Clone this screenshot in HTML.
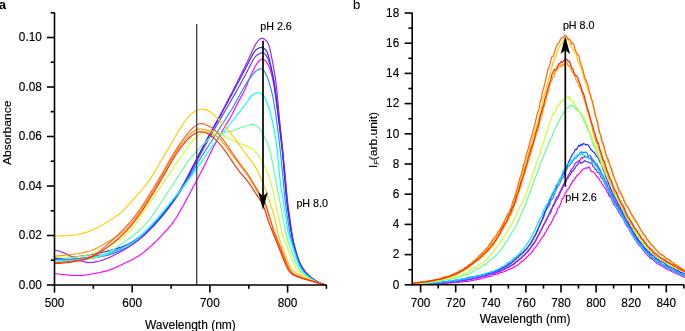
<!DOCTYPE html>
<html lang="en"><head><meta charset="utf-8"><title>Absorbance and fluorescence spectra</title>
<style>html,body{margin:0;padding:0;background:#fff;}body{width:685px;height:331px;overflow:hidden;}svg{display:block;}text{font-family:'Liberation Sans', sans-serif;fill:#000;}</style></head><body>
<svg width="685" height="331" viewBox="0 0 685 331">
<rect width="685" height="331" fill="#fff"/>
<g fill="none" stroke-width="1.15" stroke-linejoin="round" stroke-linecap="round">
<path stroke="#ff00ff" d="M54.5 273.5 L55.5 273.7 L56.5 273.8 L57.5 273.9 L58.5 274.0 L59.5 274.2 L60.5 274.3 L61.5 274.4 L62.5 274.5 L63.5 274.6 L64.5 274.7 L65.5 274.8 L66.5 274.9 L67.5 275.0 L68.5 275.1 L69.5 275.2 L70.5 275.3 L71.5 275.4 L72.5 275.4 L73.5 275.5 L74.5 275.5 L75.5 275.5 L76.5 275.5 L77.5 275.5 L78.5 275.5 L79.5 275.5 L80.5 275.4 L81.5 275.3 L82.5 275.3 L83.5 275.2 L84.5 275.1 L85.5 274.9 L86.5 274.8 L87.5 274.7 L88.5 274.5 L89.5 274.4 L90.5 274.2 L91.5 274.0 L92.5 273.8 L93.5 273.7 L94.5 273.5 L95.5 273.3 L96.5 273.1 L97.5 272.9 L98.5 272.7 L99.5 272.5 L100.5 272.3 L101.5 272.1 L102.5 271.9 L103.5 271.6 L104.5 271.4 L105.5 271.1 L106.5 270.9 L107.5 270.6 L108.5 270.3 L109.5 269.9 L110.5 269.6 L111.5 269.2 L112.5 268.8 L113.5 268.4 L114.5 267.9 L115.5 267.5 L116.5 267.0 L117.5 266.6 L118.5 266.1 L119.5 265.7 L120.5 265.2 L121.5 264.7 L122.5 264.2 L123.5 263.8 L124.5 263.3 L125.5 262.8 L126.5 262.3 L127.5 261.9 L128.5 261.4 L129.5 260.9 L130.5 260.4 L131.5 259.9 L132.5 259.4 L133.5 258.9 L134.5 258.3 L135.5 257.8 L136.5 257.2 L137.5 256.6 L138.5 256.0 L139.5 255.3 L140.5 254.6 L141.5 253.9 L142.5 253.2 L143.5 252.4 L144.5 251.6 L145.5 250.8 L146.5 250.0 L147.5 249.1 L148.5 248.3 L149.5 247.4 L150.5 246.5 L151.5 245.6 L152.5 244.7 L153.5 243.7 L154.5 242.8 L155.5 241.8 L156.5 240.8 L157.5 239.8 L158.5 238.8 L159.5 237.8 L160.5 236.8 L161.5 235.7 L162.5 234.7 L163.5 233.6 L164.5 232.5 L165.5 231.4 L166.5 230.3 L167.5 229.2 L168.5 228.0 L169.5 226.9 L170.5 225.6 L171.5 224.4 L172.5 223.1 L173.5 221.7 L174.5 220.3 L175.5 218.8 L176.5 217.2 L177.5 215.6 L178.5 213.9 L179.5 212.2 L180.5 210.4 L181.5 208.6 L182.5 206.8 L183.5 205.0 L184.5 203.2 L185.5 201.4 L186.5 199.5 L187.5 197.6 L188.5 195.8 L189.5 193.9 L190.5 192.0 L191.5 190.2 L192.5 188.3 L193.5 186.4 L194.5 184.5 L195.5 182.6 L196.5 180.7 L197.5 178.9 L198.5 177.0 L199.5 175.1 L200.5 173.2 L201.5 171.2 L202.5 169.3 L203.5 167.4 L204.5 165.4 L205.5 163.4 L206.5 161.3 L207.5 159.2 L208.5 157.1 L209.5 155.1 L210.5 153.0 L211.5 151.0 L212.5 149.0 L213.5 147.1 L214.5 145.2 L215.5 143.3 L216.5 141.5 L217.5 139.6 L218.5 137.8 L219.5 136.0 L220.5 134.2 L221.5 132.4 L222.5 130.7 L223.5 129.0 L224.5 127.3 L225.5 125.6 L226.5 124.0 L227.5 122.4 L228.5 120.8 L229.5 119.1 L230.5 117.3 L231.5 115.5 L232.5 113.6 L233.5 111.6 L234.5 109.6 L235.5 107.5 L236.5 105.5 L237.5 103.5 L238.5 101.6 L239.5 99.7 L240.5 97.9 L241.5 96.1 L242.5 94.4 L243.5 92.5 L244.5 90.5 L245.5 88.2 L246.5 85.8 L247.5 83.2 L248.5 80.7 L249.5 78.4 L250.5 76.1 L251.5 74.0 L252.5 71.8 L253.5 69.8 L254.5 67.8 L255.5 66.0 L256.5 64.3 L257.5 62.8 L258.5 61.5 L259.5 60.5 L260.5 59.8 L261.5 59.5 L262.5 59.4 L263.5 59.5 L264.5 60.0 L265.5 60.8 L266.5 62.0 L267.5 63.5 L268.5 65.4 L269.5 67.8 L270.5 70.7 L271.5 74.2 L272.5 78.3 L273.5 83.2 L274.5 89.1 L275.5 96.0 L276.5 103.4 L277.5 111.1 L278.5 119.1 L279.5 127.3 L280.5 135.6 L281.5 143.9 L282.5 152.3 L283.5 160.8 L284.5 169.9 L285.5 180.3 L286.5 192.4 L287.5 204.0 L288.5 212.9 L289.5 219.9 L290.5 226.5 L291.5 232.7 L292.5 238.1 L293.5 242.8 L294.5 247.0 L295.5 250.8 L296.5 254.3 L297.5 257.5 L298.5 260.4 L299.5 262.8 L300.5 265.0 L301.5 266.8 L302.5 268.5 L303.5 270.0 L304.5 271.5 L305.5 272.8 L306.5 273.9 L307.5 274.9 L308.5 275.8 L309.5 276.6 L310.5 277.4 L311.5 278.1 L312.5 278.8 L313.5 279.5 L314.5 280.2 L315.5 280.8 L316.5 281.3 L317.5 281.8 L318.5 282.3 L319.5 282.8 L320.5 283.2 L321.5 283.6 L322.5 284.0 L323.5 284.4 L324.5 284.7 L325.5 285.0 L326.2 285.2"/>
<path stroke="#a31cf5" d="M54.5 249.9 L55.5 250.2 L56.5 250.5 L57.5 250.7 L58.5 251.0 L59.5 251.3 L60.5 251.7 L61.5 252.0 L62.5 252.4 L63.5 252.8 L64.5 253.2 L65.5 253.6 L66.5 254.1 L67.5 254.5 L68.5 255.0 L69.5 255.5 L70.5 256.0 L71.5 256.5 L72.5 257.0 L73.5 257.5 L74.5 258.0 L75.5 258.5 L76.5 259.0 L77.5 259.4 L78.5 259.8 L79.5 260.2 L80.5 260.6 L81.5 261.0 L82.5 261.3 L83.5 261.6 L84.5 261.9 L85.5 262.1 L86.5 262.3 L87.5 262.4 L88.5 262.5 L89.5 262.5 L90.5 262.5 L91.5 262.5 L92.5 262.4 L93.5 262.3 L94.5 262.1 L95.5 261.9 L96.5 261.7 L97.5 261.5 L98.5 261.3 L99.5 261.0 L100.5 260.7 L101.5 260.4 L102.5 260.1 L103.5 259.8 L104.5 259.4 L105.5 259.0 L106.5 258.6 L107.5 258.2 L108.5 257.8 L109.5 257.4 L110.5 256.9 L111.5 256.5 L112.5 256.0 L113.5 255.5 L114.5 255.0 L115.5 254.5 L116.5 254.0 L117.5 253.5 L118.5 253.0 L119.5 252.4 L120.5 251.9 L121.5 251.3 L122.5 250.7 L123.5 250.2 L124.5 249.6 L125.5 248.9 L126.5 248.3 L127.5 247.7 L128.5 247.0 L129.5 246.4 L130.5 245.7 L131.5 245.0 L132.5 244.3 L133.5 243.5 L134.5 242.8 L135.5 242.0 L136.5 241.3 L137.5 240.5 L138.5 239.7 L139.5 238.8 L140.5 238.0 L141.5 237.1 L142.5 236.3 L143.5 235.4 L144.5 234.5 L145.5 233.5 L146.5 232.6 L147.5 231.6 L148.5 230.6 L149.5 229.6 L150.5 228.6 L151.5 227.6 L152.5 226.5 L153.5 225.5 L154.5 224.4 L155.5 223.3 L156.5 222.2 L157.5 221.1 L158.5 220.0 L159.5 218.8 L160.5 217.7 L161.5 216.5 L162.5 215.3 L163.5 214.1 L164.5 212.9 L165.5 211.7 L166.5 210.4 L167.5 209.1 L168.5 207.8 L169.5 206.4 L170.5 205.0 L171.5 203.6 L172.5 202.1 L173.5 200.7 L174.5 199.1 L175.5 197.6 L176.5 196.0 L177.5 194.4 L178.5 192.8 L179.5 191.1 L180.5 189.4 L181.5 187.7 L182.5 185.9 L183.5 184.1 L184.5 182.3 L185.5 180.4 L186.5 178.5 L187.5 176.6 L188.5 174.7 L189.5 172.7 L190.5 170.8 L191.5 168.8 L192.5 166.8 L193.5 164.9 L194.5 162.9 L195.5 161.0 L196.5 159.0 L197.5 157.1 L198.5 155.2 L199.5 153.2 L200.5 151.3 L201.5 149.4 L202.5 147.5 L203.5 145.5 L204.5 143.6 L205.5 141.7 L206.5 139.8 L207.5 138.0 L208.5 136.1 L209.5 134.3 L210.5 132.4 L211.5 130.6 L212.5 128.9 L213.5 127.1 L214.5 125.3 L215.5 123.5 L216.5 121.7 L217.5 119.9 L218.5 118.1 L219.5 116.3 L220.5 114.4 L221.5 112.6 L222.5 110.7 L223.5 108.8 L224.5 106.9 L225.5 105.0 L226.5 103.1 L227.5 101.1 L228.5 99.2 L229.5 97.3 L230.5 95.3 L231.5 93.4 L232.5 91.5 L233.5 89.5 L234.5 87.5 L235.5 85.6 L236.5 83.6 L237.5 81.6 L238.5 79.6 L239.5 77.6 L240.5 75.6 L241.5 73.6 L242.5 71.6 L243.5 69.6 L244.5 67.5 L245.5 65.5 L246.5 63.4 L247.5 61.3 L248.5 59.2 L249.5 57.0 L250.5 54.8 L251.5 52.7 L252.5 50.5 L253.5 48.4 L254.5 46.4 L255.5 44.6 L256.5 43.0 L257.5 41.6 L258.5 40.4 L259.5 39.4 L260.5 38.7 L261.5 38.3 L262.5 38.3 L263.5 38.6 L264.5 39.3 L265.5 40.1 L266.5 41.0 L267.5 42.3 L268.5 44.3 L269.5 47.4 L270.5 51.6 L271.5 56.6 L272.5 61.9 L273.5 67.3 L274.5 72.9 L275.5 79.2 L276.5 87.1 L277.5 97.2 L278.5 108.5 L279.5 119.3 L280.5 129.1 L281.5 138.6 L282.5 148.4 L283.5 158.8 L284.5 169.8 L285.5 180.9 L286.5 191.5 L287.5 200.9 L288.5 208.6 L289.5 215.6 L290.5 223.2 L291.5 230.7 L292.5 237.1 L293.5 242.0 L294.5 246.0 L295.5 249.5 L296.5 252.9 L297.5 256.1 L298.5 259.1 L299.5 261.7 L300.5 264.0 L301.5 265.9 L302.5 267.5 L303.5 269.1 L304.5 270.5 L305.5 271.9 L306.5 273.1 L307.5 274.2 L308.5 275.2 L309.5 276.1 L310.5 276.9 L311.5 277.7 L312.5 278.5 L313.5 279.2 L314.5 279.9 L315.5 280.6 L316.5 281.2 L317.5 281.7 L318.5 282.2 L319.5 282.7 L320.5 283.2 L321.5 283.6 L322.5 284.0 L323.5 284.4 L324.5 284.7 L325.5 285.0 L326.2 285.2"/>
<path stroke="#6a38ff" d="M54.5 259.0 L55.5 259.1 L56.5 259.1 L57.5 259.2 L58.5 259.3 L59.5 259.3 L60.5 259.3 L61.5 259.4 L62.5 259.4 L63.5 259.4 L64.5 259.5 L65.5 259.5 L66.5 259.5 L67.5 259.5 L68.5 259.5 L69.5 259.5 L70.5 259.5 L71.5 259.5 L72.5 259.4 L73.5 259.4 L74.5 259.4 L75.5 259.4 L76.5 259.3 L77.5 259.3 L78.5 259.3 L79.5 259.2 L80.5 259.1 L81.5 259.1 L82.5 259.0 L83.5 258.9 L84.5 258.9 L85.5 258.8 L86.5 258.7 L87.5 258.6 L88.5 258.5 L89.5 258.4 L90.5 258.2 L91.5 258.1 L92.5 258.0 L93.5 257.8 L94.5 257.7 L95.5 257.5 L96.5 257.4 L97.5 257.2 L98.5 257.0 L99.5 256.9 L100.5 256.7 L101.5 256.5 L102.5 256.3 L103.5 256.1 L104.5 255.9 L105.5 255.6 L106.5 255.4 L107.5 255.1 L108.5 254.9 L109.5 254.6 L110.5 254.3 L111.5 254.0 L112.5 253.6 L113.5 253.3 L114.5 252.9 L115.5 252.6 L116.5 252.2 L117.5 251.8 L118.5 251.4 L119.5 251.0 L120.5 250.5 L121.5 250.1 L122.5 249.7 L123.5 249.2 L124.5 248.7 L125.5 248.3 L126.5 247.8 L127.5 247.2 L128.5 246.7 L129.5 246.1 L130.5 245.5 L131.5 244.9 L132.5 244.3 L133.5 243.7 L134.5 243.0 L135.5 242.3 L136.5 241.6 L137.5 240.8 L138.5 240.1 L139.5 239.3 L140.5 238.5 L141.5 237.7 L142.5 236.8 L143.5 235.9 L144.5 235.0 L145.5 234.1 L146.5 233.2 L147.5 232.2 L148.5 231.2 L149.5 230.2 L150.5 229.2 L151.5 228.2 L152.5 227.1 L153.5 226.1 L154.5 225.0 L155.5 223.9 L156.5 222.8 L157.5 221.7 L158.5 220.5 L159.5 219.4 L160.5 218.2 L161.5 217.0 L162.5 215.8 L163.5 214.6 L164.5 213.4 L165.5 212.2 L166.5 210.9 L167.5 209.6 L168.5 208.3 L169.5 207.0 L170.5 205.7 L171.5 204.3 L172.5 203.0 L173.5 201.6 L174.5 200.1 L175.5 198.7 L176.5 197.2 L177.5 195.7 L178.5 194.2 L179.5 192.7 L180.5 191.1 L181.5 189.5 L182.5 187.9 L183.5 186.2 L184.5 184.5 L185.5 182.7 L186.5 180.9 L187.5 179.1 L188.5 177.2 L189.5 175.4 L190.5 173.4 L191.5 171.5 L192.5 169.6 L193.5 167.7 L194.5 165.7 L195.5 163.8 L196.5 161.9 L197.5 160.0 L198.5 158.1 L199.5 156.2 L200.5 154.2 L201.5 152.3 L202.5 150.4 L203.5 148.6 L204.5 146.7 L205.5 144.9 L206.5 143.1 L207.5 141.3 L208.5 139.6 L209.5 137.8 L210.5 136.1 L211.5 134.4 L212.5 132.6 L213.5 130.9 L214.5 129.2 L215.5 127.5 L216.5 125.8 L217.5 124.0 L218.5 122.3 L219.5 120.6 L220.5 118.9 L221.5 117.1 L222.5 115.4 L223.5 113.7 L224.5 111.9 L225.5 110.2 L226.5 108.5 L227.5 106.7 L228.5 105.0 L229.5 103.3 L230.5 101.6 L231.5 99.8 L232.5 98.1 L233.5 96.3 L234.5 94.6 L235.5 92.9 L236.5 91.1 L237.5 89.3 L238.5 87.5 L239.5 85.7 L240.5 83.9 L241.5 82.0 L242.5 80.2 L243.5 78.3 L244.5 76.4 L245.5 74.6 L246.5 72.7 L247.5 70.8 L248.5 68.8 L249.5 66.8 L250.5 64.9 L251.5 63.0 L252.5 61.1 L253.5 59.3 L254.5 57.8 L255.5 56.5 L256.5 55.6 L257.5 54.7 L258.5 54.1 L259.5 53.5 L260.5 53.1 L261.5 52.9 L262.5 52.9 L263.5 53.2 L264.5 53.8 L265.5 54.7 L266.5 56.1 L267.5 57.9 L268.5 60.2 L269.5 63.0 L270.5 66.2 L271.5 69.8 L272.5 73.8 L273.5 78.6 L274.5 84.3 L275.5 91.1 L276.5 98.7 L277.5 106.7 L278.5 115.1 L279.5 123.5 L280.5 132.1 L281.5 141.1 L282.5 150.9 L283.5 162.2 L284.5 174.7 L285.5 187.0 L286.5 197.6 L287.5 206.1 L288.5 213.3 L289.5 220.0 L290.5 226.5 L291.5 232.7 L292.5 238.2 L293.5 242.9 L294.5 247.0 L295.5 250.7 L296.5 254.1 L297.5 257.3 L298.5 260.1 L299.5 262.5 L300.5 264.6 L301.5 266.4 L302.5 268.0 L303.5 269.5 L304.5 271.0 L305.5 272.3 L306.5 273.5 L307.5 274.5 L308.5 275.5 L309.5 276.3 L310.5 277.1 L311.5 277.9 L312.5 278.7 L313.5 279.4 L314.5 280.1 L315.5 280.7 L316.5 281.3 L317.5 281.8 L318.5 282.3 L319.5 282.8 L320.5 283.2 L321.5 283.7 L322.5 284.1 L323.5 284.4 L324.5 284.7 L325.5 285.0 L326.2 285.2"/>
<path stroke="#2b2bff" d="M54.5 258.5 L55.5 258.4 L56.5 258.4 L57.5 258.3 L58.5 258.2 L59.5 258.1 L60.5 258.1 L61.5 258.0 L62.5 257.9 L63.5 257.8 L64.5 257.7 L65.5 257.6 L66.5 257.6 L67.5 257.5 L68.5 257.4 L69.5 257.3 L70.5 257.2 L71.5 257.1 L72.5 257.0 L73.5 256.9 L74.5 256.8 L75.5 256.7 L76.5 256.6 L77.5 256.5 L78.5 256.4 L79.5 256.2 L80.5 256.1 L81.5 256.0 L82.5 255.9 L83.5 255.8 L84.5 255.6 L85.5 255.5 L86.5 255.3 L87.5 255.2 L88.5 255.0 L89.5 254.9 L90.5 254.7 L91.5 254.6 L92.5 254.4 L93.5 254.2 L94.5 254.0 L95.5 253.8 L96.5 253.6 L97.5 253.4 L98.5 253.2 L99.5 253.0 L100.5 252.7 L101.5 252.5 L102.5 252.3 L103.5 252.0 L104.5 251.8 L105.5 251.6 L106.5 251.3 L107.5 251.1 L108.5 250.8 L109.5 250.6 L110.5 250.3 L111.5 250.0 L112.5 249.7 L113.5 249.5 L114.5 249.2 L115.5 248.9 L116.5 248.6 L117.5 248.3 L118.5 247.9 L119.5 247.6 L120.5 247.3 L121.5 247.0 L122.5 246.6 L123.5 246.2 L124.5 245.8 L125.5 245.4 L126.5 244.9 L127.5 244.5 L128.5 244.0 L129.5 243.4 L130.5 242.8 L131.5 242.3 L132.5 241.6 L133.5 241.0 L134.5 240.4 L135.5 239.7 L136.5 239.0 L137.5 238.3 L138.5 237.5 L139.5 236.8 L140.5 236.1 L141.5 235.3 L142.5 234.5 L143.5 233.7 L144.5 232.9 L145.5 232.0 L146.5 231.2 L147.5 230.3 L148.5 229.4 L149.5 228.5 L150.5 227.6 L151.5 226.6 L152.5 225.6 L153.5 224.7 L154.5 223.6 L155.5 222.6 L156.5 221.6 L157.5 220.5 L158.5 219.4 L159.5 218.3 L160.5 217.1 L161.5 216.0 L162.5 214.8 L163.5 213.6 L164.5 212.3 L165.5 211.1 L166.5 209.8 L167.5 208.5 L168.5 207.2 L169.5 205.8 L170.5 204.4 L171.5 203.0 L172.5 201.6 L173.5 200.1 L174.5 198.7 L175.5 197.2 L176.5 195.7 L177.5 194.2 L178.5 192.7 L179.5 191.1 L180.5 189.5 L181.5 187.9 L182.5 186.2 L183.5 184.5 L184.5 182.8 L185.5 181.0 L186.5 179.2 L187.5 177.3 L188.5 175.4 L189.5 173.5 L190.5 171.6 L191.5 169.6 L192.5 167.6 L193.5 165.7 L194.5 163.7 L195.5 161.8 L196.5 159.8 L197.5 157.9 L198.5 155.9 L199.5 154.0 L200.5 152.1 L201.5 150.1 L202.5 148.2 L203.5 146.3 L204.5 144.4 L205.5 142.5 L206.5 140.6 L207.5 138.7 L208.5 136.9 L209.5 135.0 L210.5 133.2 L211.5 131.5 L212.5 129.7 L213.5 127.9 L214.5 126.2 L215.5 124.4 L216.5 122.6 L217.5 120.9 L218.5 119.1 L219.5 117.2 L220.5 115.4 L221.5 113.6 L222.5 111.7 L223.5 109.8 L224.5 108.0 L225.5 106.1 L226.5 104.2 L227.5 102.4 L228.5 100.5 L229.5 98.6 L230.5 96.8 L231.5 94.9 L232.5 93.0 L233.5 91.1 L234.5 89.2 L235.5 87.3 L236.5 85.5 L237.5 83.6 L238.5 81.7 L239.5 79.8 L240.5 77.9 L241.5 76.0 L242.5 74.1 L243.5 72.2 L244.5 70.3 L245.5 68.4 L246.5 66.4 L247.5 64.5 L248.5 62.6 L249.5 60.7 L250.5 58.7 L251.5 56.8 L252.5 54.9 L253.5 53.1 L254.5 51.6 L255.5 50.4 L256.5 49.5 L257.5 48.8 L258.5 48.3 L259.5 47.8 L260.5 47.6 L261.5 47.5 L262.5 47.7 L263.5 48.1 L264.5 48.8 L265.5 49.7 L266.5 51.1 L267.5 53.2 L268.5 56.2 L269.5 60.0 L270.5 64.3 L271.5 69.0 L272.5 74.0 L273.5 79.6 L274.5 86.2 L275.5 93.5 L276.5 101.3 L277.5 109.4 L278.5 117.5 L279.5 125.6 L280.5 133.9 L281.5 142.4 L282.5 151.9 L283.5 163.1 L284.5 175.6 L285.5 187.9 L286.5 198.5 L287.5 206.9 L288.5 214.0 L289.5 220.8 L290.5 227.5 L291.5 233.8 L292.5 239.2 L293.5 243.8 L294.5 247.7 L295.5 251.3 L296.5 254.7 L297.5 257.8 L298.5 260.5 L299.5 262.9 L300.5 265.0 L301.5 266.7 L302.5 268.3 L303.5 269.8 L304.5 271.2 L305.5 272.5 L306.5 273.7 L307.5 274.7 L308.5 275.6 L309.5 276.5 L310.5 277.3 L311.5 278.1 L312.5 278.8 L313.5 279.5 L314.5 280.2 L315.5 280.8 L316.5 281.4 L317.5 281.9 L318.5 282.4 L319.5 282.9 L320.5 283.3 L321.5 283.7 L322.5 284.1 L323.5 284.5 L324.5 284.8 L325.5 285.0 L326.2 285.2"/>
<path stroke="#1e90ff" d="M54.5 259.5 L55.5 259.5 L56.5 259.5 L57.5 259.5 L58.5 259.5 L59.5 259.5 L60.5 259.4 L61.5 259.4 L62.5 259.4 L63.5 259.3 L64.5 259.3 L65.5 259.2 L66.5 259.2 L67.5 259.1 L68.5 259.1 L69.5 259.0 L70.5 259.0 L71.5 258.9 L72.5 258.8 L73.5 258.7 L74.5 258.7 L75.5 258.6 L76.5 258.5 L77.5 258.4 L78.5 258.3 L79.5 258.2 L80.5 258.1 L81.5 258.0 L82.5 257.9 L83.5 257.8 L84.5 257.7 L85.5 257.5 L86.5 257.4 L87.5 257.3 L88.5 257.1 L89.5 257.0 L90.5 256.8 L91.5 256.7 L92.5 256.5 L93.5 256.3 L94.5 256.1 L95.5 256.0 L96.5 255.8 L97.5 255.6 L98.5 255.4 L99.5 255.2 L100.5 255.0 L101.5 254.8 L102.5 254.5 L103.5 254.3 L104.5 254.1 L105.5 253.8 L106.5 253.6 L107.5 253.3 L108.5 253.0 L109.5 252.7 L110.5 252.4 L111.5 252.1 L112.5 251.7 L113.5 251.4 L114.5 251.0 L115.5 250.6 L116.5 250.2 L117.5 249.8 L118.5 249.4 L119.5 249.0 L120.5 248.6 L121.5 248.1 L122.5 247.7 L123.5 247.2 L124.5 246.8 L125.5 246.3 L126.5 245.8 L127.5 245.3 L128.5 244.7 L129.5 244.2 L130.5 243.6 L131.5 243.0 L132.5 242.4 L133.5 241.7 L134.5 241.1 L135.5 240.4 L136.5 239.6 L137.5 238.9 L138.5 238.1 L139.5 237.3 L140.5 236.5 L141.5 235.6 L142.5 234.7 L143.5 233.8 L144.5 232.9 L145.5 232.0 L146.5 231.0 L147.5 230.0 L148.5 229.0 L149.5 228.0 L150.5 227.0 L151.5 225.9 L152.5 224.9 L153.5 223.8 L154.5 222.7 L155.5 221.6 L156.5 220.4 L157.5 219.3 L158.5 218.1 L159.5 217.0 L160.5 215.8 L161.5 214.6 L162.5 213.3 L163.5 212.1 L164.5 210.9 L165.5 209.6 L166.5 208.4 L167.5 207.1 L168.5 205.9 L169.5 204.6 L170.5 203.3 L171.5 202.0 L172.5 200.7 L173.5 199.4 L174.5 198.1 L175.5 196.8 L176.5 195.5 L177.5 194.2 L178.5 192.9 L179.5 191.6 L180.5 190.2 L181.5 188.9 L182.5 187.5 L183.5 186.1 L184.5 184.7 L185.5 183.3 L186.5 181.8 L187.5 180.3 L188.5 178.8 L189.5 177.2 L190.5 175.6 L191.5 174.0 L192.5 172.3 L193.5 170.5 L194.5 168.8 L195.5 167.0 L196.5 165.2 L197.5 163.5 L198.5 161.7 L199.5 160.0 L200.5 158.4 L201.5 156.8 L202.5 155.2 L203.5 153.6 L204.5 152.1 L205.5 150.5 L206.5 148.9 L207.5 147.4 L208.5 145.8 L209.5 144.2 L210.5 142.7 L211.5 141.1 L212.5 139.5 L213.5 138.0 L214.5 136.4 L215.5 134.8 L216.5 133.3 L217.5 131.7 L218.5 130.1 L219.5 128.6 L220.5 127.0 L221.5 125.4 L222.5 123.8 L223.5 122.3 L224.5 120.7 L225.5 119.1 L226.5 117.6 L227.5 116.0 L228.5 114.4 L229.5 112.9 L230.5 111.3 L231.5 109.7 L232.5 108.0 L233.5 106.3 L234.5 104.6 L235.5 102.8 L236.5 101.0 L237.5 99.2 L238.5 97.3 L239.5 95.5 L240.5 93.6 L241.5 91.8 L242.5 90.0 L243.5 88.2 L244.5 86.5 L245.5 84.8 L246.5 83.2 L247.5 81.6 L248.5 80.2 L249.5 78.7 L250.5 77.4 L251.5 76.1 L252.5 74.8 L253.5 73.6 L254.5 72.5 L255.5 71.5 L256.5 70.6 L257.5 69.9 L258.5 69.4 L259.5 69.0 L260.5 68.9 L261.5 69.0 L262.5 69.4 L263.5 70.2 L264.5 71.5 L265.5 73.2 L266.5 75.4 L267.5 77.9 L268.5 80.7 L269.5 83.8 L270.5 87.2 L271.5 91.0 L272.5 95.3 L273.5 100.4 L274.5 106.3 L275.5 112.8 L276.5 119.9 L277.5 127.5 L278.5 135.4 L279.5 143.9 L280.5 153.0 L281.5 162.7 L282.5 172.9 L283.5 183.5 L284.5 194.1 L285.5 203.4 L286.5 211.1 L287.5 218.0 L288.5 224.6 L289.5 230.7 L290.5 236.0 L291.5 240.2 L292.5 243.7 L293.5 246.9 L294.5 250.1 L295.5 253.4 L296.5 256.5 L297.5 259.4 L298.5 262.0 L299.5 264.3 L300.5 266.3 L301.5 268.0 L302.5 269.6 L303.5 271.0 L304.5 272.3 L305.5 273.5 L306.5 274.5 L307.5 275.4 L308.5 276.2 L309.5 277.0 L310.5 277.8 L311.5 278.5 L312.5 279.2 L313.5 279.9 L314.5 280.5 L315.5 281.1 L316.5 281.6 L317.5 282.1 L318.5 282.5 L319.5 282.9 L320.5 283.4 L321.5 283.8 L322.5 284.1 L323.5 284.5 L324.5 284.8 L325.5 285.0 L326.2 285.2"/>
<path stroke="#00ffff" d="M54.5 261.0 L55.5 261.0 L56.5 260.9 L57.5 260.9 L58.5 260.8 L59.5 260.8 L60.5 260.7 L61.5 260.7 L62.5 260.6 L63.5 260.6 L64.5 260.5 L65.5 260.4 L66.5 260.4 L67.5 260.3 L68.5 260.3 L69.5 260.2 L70.5 260.1 L71.5 260.1 L72.5 260.0 L73.5 259.9 L74.5 259.9 L75.5 259.8 L76.5 259.7 L77.5 259.7 L78.5 259.6 L79.5 259.5 L80.5 259.4 L81.5 259.4 L82.5 259.3 L83.5 259.2 L84.5 259.1 L85.5 259.0 L86.5 258.9 L87.5 258.8 L88.5 258.7 L89.5 258.6 L90.5 258.5 L91.5 258.3 L92.5 258.2 L93.5 258.0 L94.5 257.8 L95.5 257.7 L96.5 257.5 L97.5 257.2 L98.5 257.0 L99.5 256.8 L100.5 256.5 L101.5 256.3 L102.5 256.0 L103.5 255.7 L104.5 255.4 L105.5 255.1 L106.5 254.8 L107.5 254.5 L108.5 254.1 L109.5 253.8 L110.5 253.4 L111.5 253.0 L112.5 252.7 L113.5 252.3 L114.5 251.8 L115.5 251.4 L116.5 251.0 L117.5 250.5 L118.5 250.1 L119.5 249.6 L120.5 249.2 L121.5 248.7 L122.5 248.2 L123.5 247.7 L124.5 247.2 L125.5 246.6 L126.5 246.1 L127.5 245.5 L128.5 244.9 L129.5 244.3 L130.5 243.7 L131.5 243.1 L132.5 242.4 L133.5 241.7 L134.5 240.9 L135.5 240.2 L136.5 239.4 L137.5 238.6 L138.5 237.7 L139.5 236.8 L140.5 235.9 L141.5 235.0 L142.5 234.1 L143.5 233.1 L144.5 232.2 L145.5 231.2 L146.5 230.2 L147.5 229.1 L148.5 228.1 L149.5 227.1 L150.5 226.0 L151.5 225.0 L152.5 223.9 L153.5 222.8 L154.5 221.7 L155.5 220.5 L156.5 219.4 L157.5 218.3 L158.5 217.1 L159.5 215.9 L160.5 214.8 L161.5 213.6 L162.5 212.4 L163.5 211.2 L164.5 210.0 L165.5 208.7 L166.5 207.5 L167.5 206.3 L168.5 205.1 L169.5 203.8 L170.5 202.6 L171.5 201.4 L172.5 200.1 L173.5 198.9 L174.5 197.6 L175.5 196.4 L176.5 195.1 L177.5 193.8 L178.5 192.6 L179.5 191.3 L180.5 190.0 L181.5 188.7 L182.5 187.4 L183.5 186.2 L184.5 184.9 L185.5 183.6 L186.5 182.3 L187.5 180.9 L188.5 179.6 L189.5 178.3 L190.5 177.0 L191.5 175.6 L192.5 174.3 L193.5 172.9 L194.5 171.5 L195.5 170.2 L196.5 168.8 L197.5 167.4 L198.5 166.0 L199.5 164.6 L200.5 163.2 L201.5 161.8 L202.5 160.4 L203.5 159.0 L204.5 157.5 L205.5 156.1 L206.5 154.7 L207.5 153.2 L208.5 151.7 L209.5 150.2 L210.5 148.7 L211.5 147.2 L212.5 145.8 L213.5 144.5 L214.5 143.1 L215.5 141.9 L216.5 140.6 L217.5 139.4 L218.5 138.3 L219.5 137.1 L220.5 135.9 L221.5 134.7 L222.5 133.4 L223.5 132.2 L224.5 130.9 L225.5 129.6 L226.5 128.3 L227.5 127.1 L228.5 125.8 L229.5 124.5 L230.5 123.3 L231.5 122.0 L232.5 120.7 L233.5 119.5 L234.5 118.2 L235.5 117.0 L236.5 115.7 L237.5 114.4 L238.5 113.2 L239.5 111.9 L240.5 110.7 L241.5 109.4 L242.5 108.2 L243.5 106.9 L244.5 105.6 L245.5 104.3 L246.5 103.0 L247.5 101.5 L248.5 100.0 L249.5 98.6 L250.5 97.2 L251.5 96.0 L252.5 95.1 L253.5 94.3 L254.5 93.7 L255.5 93.2 L256.5 92.9 L257.5 92.7 L258.5 92.7 L259.5 92.8 L260.5 93.2 L261.5 93.8 L262.5 94.7 L263.5 95.9 L264.5 97.4 L265.5 99.3 L266.5 101.4 L267.5 103.8 L268.5 106.6 L269.5 109.7 L270.5 113.3 L271.5 117.3 L272.5 121.8 L273.5 126.6 L274.5 131.8 L275.5 137.4 L276.5 144.0 L277.5 152.5 L278.5 163.4 L279.5 174.7 L280.5 183.8 L281.5 190.6 L282.5 196.5 L283.5 202.4 L284.5 208.7 L285.5 215.4 L286.5 222.2 L287.5 228.6 L288.5 233.5 L289.5 237.3 L290.5 240.6 L291.5 243.6 L292.5 246.6 L293.5 249.6 L294.5 252.7 L295.5 255.7 L296.5 258.7 L297.5 261.5 L298.5 264.0 L299.5 266.3 L300.5 268.2 L301.5 269.9 L302.5 271.3 L303.5 272.6 L304.5 273.6 L305.5 274.5 L306.5 275.3 L307.5 276.1 L308.5 276.9 L309.5 277.6 L310.5 278.3 L311.5 279.0 L312.5 279.6 L313.5 280.2 L314.5 280.8 L315.5 281.3 L316.5 281.7 L317.5 282.2 L318.5 282.6 L319.5 283.1 L320.5 283.4 L321.5 283.8 L322.5 284.2 L323.5 284.5 L324.5 284.8 L325.5 285.0 L326.2 285.2"/>
<path stroke="#66ff99" d="M54.5 261.8 L55.5 261.8 L56.5 261.8 L57.5 261.8 L58.5 261.8 L59.5 261.7 L60.5 261.7 L61.5 261.7 L62.5 261.6 L63.5 261.6 L64.5 261.5 L65.5 261.4 L66.5 261.4 L67.5 261.3 L68.5 261.2 L69.5 261.1 L70.5 261.0 L71.5 260.9 L72.5 260.8 L73.5 260.7 L74.5 260.6 L75.5 260.5 L76.5 260.4 L77.5 260.3 L78.5 260.2 L79.5 260.0 L80.5 259.9 L81.5 259.8 L82.5 259.7 L83.5 259.5 L84.5 259.4 L85.5 259.2 L86.5 259.1 L87.5 258.9 L88.5 258.7 L89.5 258.6 L90.5 258.4 L91.5 258.2 L92.5 257.9 L93.5 257.7 L94.5 257.5 L95.5 257.2 L96.5 256.9 L97.5 256.7 L98.5 256.4 L99.5 256.0 L100.5 255.7 L101.5 255.3 L102.5 254.9 L103.5 254.5 L104.5 254.1 L105.5 253.7 L106.5 253.2 L107.5 252.7 L108.5 252.2 L109.5 251.6 L110.5 251.1 L111.5 250.5 L112.5 249.9 L113.5 249.3 L114.5 248.7 L115.5 248.0 L116.5 247.4 L117.5 246.7 L118.5 246.1 L119.5 245.4 L120.5 244.7 L121.5 244.0 L122.5 243.3 L123.5 242.6 L124.5 241.9 L125.5 241.2 L126.5 240.5 L127.5 239.7 L128.5 239.0 L129.5 238.3 L130.5 237.5 L131.5 236.7 L132.5 235.9 L133.5 235.2 L134.5 234.4 L135.5 233.6 L136.5 232.7 L137.5 231.9 L138.5 231.0 L139.5 230.2 L140.5 229.3 L141.5 228.3 L142.5 227.4 L143.5 226.4 L144.5 225.3 L145.5 224.3 L146.5 223.1 L147.5 221.9 L148.5 220.7 L149.5 219.4 L150.5 218.1 L151.5 216.7 L152.5 215.3 L153.5 213.9 L154.5 212.4 L155.5 211.0 L156.5 209.5 L157.5 208.0 L158.5 206.5 L159.5 205.0 L160.5 203.5 L161.5 202.0 L162.5 200.5 L163.5 199.0 L164.5 197.4 L165.5 195.9 L166.5 194.4 L167.5 192.8 L168.5 191.3 L169.5 189.8 L170.5 188.2 L171.5 186.7 L172.5 185.1 L173.5 183.6 L174.5 182.0 L175.5 180.5 L176.5 178.9 L177.5 177.4 L178.5 175.8 L179.5 174.3 L180.5 172.7 L181.5 171.2 L182.5 169.6 L183.5 168.1 L184.5 166.6 L185.5 165.1 L186.5 163.7 L187.5 162.2 L188.5 160.8 L189.5 159.5 L190.5 158.2 L191.5 157.0 L192.5 155.8 L193.5 154.7 L194.5 153.6 L195.5 152.5 L196.5 151.4 L197.5 150.4 L198.5 149.3 L199.5 148.3 L200.5 147.2 L201.5 146.2 L202.5 145.2 L203.5 144.1 L204.5 143.1 L205.5 142.1 L206.5 141.1 L207.5 140.1 L208.5 139.2 L209.5 138.3 L210.5 137.5 L211.5 136.7 L212.5 136.0 L213.5 135.4 L214.5 134.8 L215.5 134.4 L216.5 134.0 L217.5 133.7 L218.5 133.4 L219.5 133.1 L220.5 132.9 L221.5 132.7 L222.5 132.5 L223.5 132.4 L224.5 132.2 L225.5 132.1 L226.5 132.0 L227.5 131.9 L228.5 131.8 L229.5 131.6 L230.5 131.4 L231.5 131.0 L232.5 130.7 L233.5 130.3 L234.5 130.0 L235.5 129.6 L236.5 129.3 L237.5 128.9 L238.5 128.6 L239.5 128.2 L240.5 127.8 L241.5 127.5 L242.5 127.1 L243.5 126.8 L244.5 126.4 L245.5 126.0 L246.5 125.7 L247.5 125.3 L248.5 125.0 L249.5 124.7 L250.5 124.5 L251.5 124.4 L252.5 124.5 L253.5 124.6 L254.5 124.9 L255.5 125.3 L256.5 125.9 L257.5 126.6 L258.5 127.6 L259.5 128.7 L260.5 130.0 L261.5 131.5 L262.5 133.2 L263.5 135.0 L264.5 136.9 L265.5 139.0 L266.5 141.1 L267.5 143.4 L268.5 146.0 L269.5 149.0 L270.5 152.8 L271.5 157.4 L272.5 162.5 L273.5 167.9 L274.5 173.6 L275.5 179.3 L276.5 184.6 L277.5 189.7 L278.5 194.6 L279.5 199.5 L280.5 204.7 L281.5 210.1 L282.5 215.6 L283.5 221.1 L284.5 226.8 L285.5 231.9 L286.5 236.1 L287.5 239.6 L288.5 242.7 L289.5 245.5 L290.5 248.3 L291.5 251.1 L292.5 253.8 L293.5 256.5 L294.5 259.1 L295.5 261.5 L296.5 263.6 L297.5 265.5 L298.5 267.2 L299.5 268.6 L300.5 269.9 L301.5 271.1 L302.5 272.2 L303.5 273.2 L304.5 274.1 L305.5 275.0 L306.5 275.9 L307.5 276.8 L308.5 277.6 L309.5 278.4 L310.5 279.1 L311.5 279.7 L312.5 280.2 L313.5 280.8 L314.5 281.3 L315.5 281.7 L316.5 282.2 L317.5 282.6 L318.5 283.0 L319.5 283.3 L320.5 283.7 L321.5 284.0 L322.5 284.3 L323.5 284.6 L324.5 284.8 L325.5 285.1 L326.2 285.2"/>
<path stroke="#ccff33" d="M54.5 257.0 L55.5 257.1 L56.5 257.2 L57.5 257.3 L58.5 257.4 L59.5 257.4 L60.5 257.5 L61.5 257.5 L62.5 257.5 L63.5 257.6 L64.5 257.6 L65.5 257.6 L66.5 257.6 L67.5 257.5 L68.5 257.5 L69.5 257.5 L70.5 257.4 L71.5 257.3 L72.5 257.3 L73.5 257.2 L74.5 257.1 L75.5 257.0 L76.5 256.9 L77.5 256.8 L78.5 256.7 L79.5 256.5 L80.5 256.4 L81.5 256.2 L82.5 256.1 L83.5 255.9 L84.5 255.7 L85.5 255.5 L86.5 255.3 L87.5 255.0 L88.5 254.8 L89.5 254.5 L90.5 254.3 L91.5 254.0 L92.5 253.7 L93.5 253.4 L94.5 253.1 L95.5 252.8 L96.5 252.4 L97.5 252.1 L98.5 251.7 L99.5 251.3 L100.5 250.9 L101.5 250.5 L102.5 250.1 L103.5 249.6 L104.5 249.1 L105.5 248.7 L106.5 248.2 L107.5 247.6 L108.5 247.1 L109.5 246.5 L110.5 245.9 L111.5 245.3 L112.5 244.7 L113.5 244.0 L114.5 243.3 L115.5 242.6 L116.5 241.9 L117.5 241.2 L118.5 240.5 L119.5 239.7 L120.5 238.9 L121.5 238.2 L122.5 237.4 L123.5 236.6 L124.5 235.8 L125.5 234.9 L126.5 234.1 L127.5 233.2 L128.5 232.2 L129.5 231.3 L130.5 230.2 L131.5 229.1 L132.5 228.0 L133.5 226.7 L134.5 225.4 L135.5 224.0 L136.5 222.6 L137.5 221.2 L138.5 219.7 L139.5 218.2 L140.5 216.7 L141.5 215.2 L142.5 213.6 L143.5 212.1 L144.5 210.6 L145.5 209.1 L146.5 207.6 L147.5 206.1 L148.5 204.6 L149.5 203.1 L150.5 201.6 L151.5 200.1 L152.5 198.6 L153.5 197.1 L154.5 195.6 L155.5 194.1 L156.5 192.7 L157.5 191.2 L158.5 189.7 L159.5 188.2 L160.5 186.7 L161.5 185.3 L162.5 183.8 L163.5 182.4 L164.5 180.9 L165.5 179.4 L166.5 178.0 L167.5 176.5 L168.5 175.1 L169.5 173.6 L170.5 172.1 L171.5 170.7 L172.5 169.2 L173.5 167.8 L174.5 166.3 L175.5 164.9 L176.5 163.4 L177.5 161.9 L178.5 160.5 L179.5 159.0 L180.5 157.6 L181.5 156.1 L182.5 154.6 L183.5 153.2 L184.5 151.7 L185.5 150.3 L186.5 148.9 L187.5 147.4 L188.5 146.1 L189.5 144.7 L190.5 143.4 L191.5 142.1 L192.5 141.0 L193.5 139.9 L194.5 138.8 L195.5 137.8 L196.5 136.9 L197.5 136.0 L198.5 135.2 L199.5 134.5 L200.5 133.8 L201.5 133.3 L202.5 132.7 L203.5 132.3 L204.5 131.9 L205.5 131.5 L206.5 131.2 L207.5 131.0 L208.5 130.8 L209.5 130.7 L210.5 130.7 L211.5 130.8 L212.5 131.0 L213.5 131.2 L214.5 131.5 L215.5 131.8 L216.5 132.2 L217.5 132.7 L218.5 133.1 L219.5 133.6 L220.5 134.0 L221.5 134.5 L222.5 135.1 L223.5 135.6 L224.5 136.2 L225.5 136.8 L226.5 137.4 L227.5 138.0 L228.5 138.5 L229.5 139.0 L230.5 139.5 L231.5 139.9 L232.5 140.4 L233.5 140.8 L234.5 141.2 L235.5 141.6 L236.5 142.0 L237.5 142.4 L238.5 142.8 L239.5 143.2 L240.5 143.7 L241.5 144.1 L242.5 144.5 L243.5 144.9 L244.5 145.4 L245.5 145.8 L246.5 146.3 L247.5 146.7 L248.5 147.1 L249.5 147.6 L250.5 148.1 L251.5 148.6 L252.5 149.3 L253.5 150.0 L254.5 150.9 L255.5 151.9 L256.5 153.0 L257.5 154.2 L258.5 155.6 L259.5 157.1 L260.5 158.7 L261.5 160.4 L262.5 162.1 L263.5 163.9 L264.5 165.9 L265.5 168.0 L266.5 170.3 L267.5 173.0 L268.5 175.8 L269.5 178.8 L270.5 181.9 L271.5 185.3 L272.5 189.0 L273.5 193.2 L274.5 198.0 L275.5 203.0 L276.5 207.6 L277.5 212.0 L278.5 216.5 L279.5 221.1 L280.5 225.8 L281.5 230.1 L282.5 233.8 L283.5 237.1 L284.5 239.9 L285.5 242.5 L286.5 245.0 L287.5 247.6 L288.5 250.2 L289.5 252.8 L290.5 255.4 L291.5 258.0 L292.5 260.4 L293.5 262.7 L294.5 264.8 L295.5 266.7 L296.5 268.3 L297.5 269.7 L298.5 271.0 L299.5 272.0 L300.5 273.0 L301.5 273.8 L302.5 274.6 L303.5 275.3 L304.5 276.1 L305.5 276.8 L306.5 277.5 L307.5 278.1 L308.5 278.7 L309.5 279.2 L310.5 279.7 L311.5 280.2 L312.5 280.6 L313.5 281.1 L314.5 281.5 L315.5 281.9 L316.5 282.3 L317.5 282.7 L318.5 283.0 L319.5 283.4 L320.5 283.7 L321.5 284.0 L322.5 284.3 L323.5 284.5 L324.5 284.8 L325.5 285.0 L326.2 285.2"/>
<path stroke="#ffcc00" d="M54.5 235.5 L55.5 235.6 L56.5 235.7 L57.5 235.7 L58.5 235.7 L59.5 235.8 L60.5 235.8 L61.5 235.8 L62.5 235.8 L63.5 235.8 L64.5 235.8 L65.5 235.7 L66.5 235.7 L67.5 235.7 L68.5 235.6 L69.5 235.5 L70.5 235.4 L71.5 235.3 L72.5 235.2 L73.5 235.1 L74.5 235.0 L75.5 234.8 L76.5 234.7 L77.5 234.5 L78.5 234.3 L79.5 234.1 L80.5 233.9 L81.5 233.7 L82.5 233.4 L83.5 233.1 L84.5 232.9 L85.5 232.5 L86.5 232.2 L87.5 231.9 L88.5 231.5 L89.5 231.1 L90.5 230.7 L91.5 230.3 L92.5 229.9 L93.5 229.5 L94.5 229.0 L95.5 228.5 L96.5 228.0 L97.5 227.5 L98.5 227.0 L99.5 226.5 L100.5 226.0 L101.5 225.4 L102.5 224.9 L103.5 224.3 L104.5 223.7 L105.5 223.1 L106.5 222.5 L107.5 221.9 L108.5 221.3 L109.5 220.6 L110.5 220.0 L111.5 219.4 L112.5 218.7 L113.5 218.1 L114.5 217.4 L115.5 216.7 L116.5 216.0 L117.5 215.3 L118.5 214.6 L119.5 213.8 L120.5 213.0 L121.5 212.1 L122.5 211.2 L123.5 210.2 L124.5 209.2 L125.5 208.1 L126.5 207.1 L127.5 206.0 L128.5 204.8 L129.5 203.7 L130.5 202.6 L131.5 201.5 L132.5 200.3 L133.5 199.2 L134.5 198.1 L135.5 197.0 L136.5 195.8 L137.5 194.7 L138.5 193.6 L139.5 192.5 L140.5 191.4 L141.5 190.2 L142.5 189.1 L143.5 187.9 L144.5 186.7 L145.5 185.5 L146.5 184.3 L147.5 182.9 L148.5 181.6 L149.5 180.1 L150.5 178.6 L151.5 177.0 L152.5 175.4 L153.5 173.8 L154.5 172.1 L155.5 170.4 L156.5 168.7 L157.5 166.9 L158.5 165.2 L159.5 163.5 L160.5 161.8 L161.5 160.2 L162.5 158.5 L163.5 156.8 L164.5 155.1 L165.5 153.4 L166.5 151.7 L167.5 150.0 L168.5 148.4 L169.5 146.7 L170.5 144.9 L171.5 143.2 L172.5 141.5 L173.5 139.8 L174.5 138.0 L175.5 136.3 L176.5 134.5 L177.5 132.8 L178.5 131.1 L179.5 129.4 L180.5 127.8 L181.5 126.2 L182.5 124.7 L183.5 123.2 L184.5 121.9 L185.5 120.5 L186.5 119.3 L187.5 118.1 L188.5 116.9 L189.5 115.8 L190.5 114.9 L191.5 113.9 L192.5 113.1 L193.5 112.4 L194.5 111.7 L195.5 111.1 L196.5 110.6 L197.5 110.2 L198.5 109.8 L199.5 109.5 L200.5 109.3 L201.5 109.2 L202.5 109.2 L203.5 109.2 L204.5 109.4 L205.5 109.6 L206.5 109.9 L207.5 110.3 L208.5 110.9 L209.5 111.5 L210.5 112.1 L211.5 112.9 L212.5 113.7 L213.5 114.6 L214.5 115.5 L215.5 116.4 L216.5 117.4 L217.5 118.3 L218.5 119.3 L219.5 120.4 L220.5 121.4 L221.5 122.5 L222.5 123.6 L223.5 124.7 L224.5 125.9 L225.5 127.0 L226.5 128.2 L227.5 129.4 L228.5 130.6 L229.5 131.9 L230.5 133.1 L231.5 134.4 L232.5 135.7 L233.5 137.0 L234.5 138.4 L235.5 139.7 L236.5 141.0 L237.5 142.4 L238.5 143.7 L239.5 145.1 L240.5 146.5 L241.5 147.9 L242.5 149.3 L243.5 150.7 L244.5 152.2 L245.5 153.6 L246.5 154.9 L247.5 156.1 L248.5 157.4 L249.5 158.6 L250.5 159.8 L251.5 161.1 L252.5 162.5 L253.5 163.9 L254.5 165.5 L255.5 167.2 L256.5 169.1 L257.5 171.0 L258.5 173.0 L259.5 175.1 L260.5 177.5 L261.5 180.1 L262.5 182.8 L263.5 185.2 L264.5 187.4 L265.5 189.5 L266.5 192.1 L267.5 195.1 L268.5 198.1 L269.5 201.1 L270.5 204.1 L271.5 207.2 L272.5 210.4 L273.5 213.8 L274.5 217.4 L275.5 221.5 L276.5 226.3 L277.5 231.2 L278.5 235.5 L279.5 239.0 L280.5 242.2 L281.5 245.2 L282.5 248.0 L283.5 250.8 L284.5 253.6 L285.5 256.3 L286.5 258.9 L287.5 261.3 L288.5 263.4 L289.5 265.3 L290.5 267.0 L291.5 268.4 L292.5 269.6 L293.5 270.7 L294.5 271.7 L295.5 272.4 L296.5 273.1 L297.5 273.7 L298.5 274.3 L299.5 274.8 L300.5 275.4 L301.5 275.9 L302.5 276.4 L303.5 276.9 L304.5 277.3 L305.5 277.8 L306.5 278.2 L307.5 278.6 L308.5 279.0 L309.5 279.4 L310.5 279.8 L311.5 280.3 L312.5 280.7 L313.5 281.1 L314.5 281.4 L315.5 281.8 L316.5 282.2 L317.5 282.5 L318.5 282.9 L319.5 283.2 L320.5 283.5 L321.5 283.8 L322.5 284.2 L323.5 284.5 L324.5 284.7 L325.5 285.0 L326.2 285.2"/>
<path stroke="#ff9900" d="M54.5 256.1 L55.5 256.1 L56.5 256.0 L57.5 255.9 L58.5 255.9 L59.5 255.8 L60.5 255.7 L61.5 255.6 L62.5 255.5 L63.5 255.4 L64.5 255.3 L65.5 255.2 L66.5 255.1 L67.5 255.0 L68.5 254.9 L69.5 254.8 L70.5 254.7 L71.5 254.5 L72.5 254.4 L73.5 254.3 L74.5 254.1 L75.5 254.0 L76.5 253.8 L77.5 253.7 L78.5 253.5 L79.5 253.4 L80.5 253.2 L81.5 253.0 L82.5 252.8 L83.5 252.6 L84.5 252.4 L85.5 252.2 L86.5 251.9 L87.5 251.6 L88.5 251.3 L89.5 251.0 L90.5 250.7 L91.5 250.3 L92.5 249.9 L93.5 249.5 L94.5 249.1 L95.5 248.6 L96.5 248.2 L97.5 247.7 L98.5 247.2 L99.5 246.6 L100.5 246.1 L101.5 245.5 L102.5 245.0 L103.5 244.4 L104.5 243.8 L105.5 243.3 L106.5 242.7 L107.5 242.1 L108.5 241.5 L109.5 241.0 L110.5 240.4 L111.5 239.8 L112.5 239.2 L113.5 238.6 L114.5 238.0 L115.5 237.3 L116.5 236.7 L117.5 236.0 L118.5 235.4 L119.5 234.7 L120.5 233.9 L121.5 233.2 L122.5 232.4 L123.5 231.6 L124.5 230.7 L125.5 229.8 L126.5 228.8 L127.5 227.7 L128.5 226.7 L129.5 225.5 L130.5 224.3 L131.5 223.1 L132.5 221.8 L133.5 220.5 L134.5 219.2 L135.5 217.8 L136.5 216.5 L137.5 215.1 L138.5 213.7 L139.5 212.2 L140.5 210.8 L141.5 209.3 L142.5 207.8 L143.5 206.3 L144.5 204.8 L145.5 203.3 L146.5 201.7 L147.5 200.1 L148.5 198.5 L149.5 196.9 L150.5 195.3 L151.5 193.7 L152.5 192.1 L153.5 190.5 L154.5 188.8 L155.5 187.2 L156.5 185.5 L157.5 183.8 L158.5 182.1 L159.5 180.4 L160.5 178.7 L161.5 177.0 L162.5 175.2 L163.5 173.5 L164.5 171.8 L165.5 170.0 L166.5 168.3 L167.5 166.5 L168.5 164.7 L169.5 163.0 L170.5 161.2 L171.5 159.5 L172.5 157.8 L173.5 156.1 L174.5 154.5 L175.5 152.9 L176.5 151.4 L177.5 149.9 L178.5 148.5 L179.5 147.1 L180.5 145.7 L181.5 144.4 L182.5 143.0 L183.5 141.8 L184.5 140.5 L185.5 139.3 L186.5 138.2 L187.5 137.0 L188.5 135.9 L189.5 134.9 L190.5 133.9 L191.5 133.0 L192.5 132.2 L193.5 131.4 L194.5 130.8 L195.5 130.2 L196.5 129.7 L197.5 129.4 L198.5 129.1 L199.5 129.0 L200.5 129.0 L201.5 129.0 L202.5 129.1 L203.5 129.3 L204.5 129.5 L205.5 129.8 L206.5 130.2 L207.5 130.6 L208.5 131.0 L209.5 131.5 L210.5 132.1 L211.5 132.7 L212.5 133.3 L213.5 133.9 L214.5 134.6 L215.5 135.4 L216.5 136.1 L217.5 137.0 L218.5 137.9 L219.5 138.8 L220.5 139.8 L221.5 140.9 L222.5 142.0 L223.5 143.2 L224.5 144.4 L225.5 145.6 L226.5 147.0 L227.5 148.3 L228.5 149.7 L229.5 151.1 L230.5 152.5 L231.5 153.9 L232.5 155.3 L233.5 156.7 L234.5 158.1 L235.5 159.4 L236.5 160.7 L237.5 162.0 L238.5 163.4 L239.5 164.7 L240.5 166.0 L241.5 167.3 L242.5 168.6 L243.5 169.9 L244.5 171.2 L245.5 172.5 L246.5 173.9 L247.5 175.2 L248.5 176.7 L249.5 178.3 L250.5 179.9 L251.5 181.5 L252.5 183.2 L253.5 184.9 L254.5 186.6 L255.5 188.2 L256.5 189.9 L257.5 191.6 L258.5 193.3 L259.5 195.0 L260.5 196.6 L261.5 198.2 L262.5 199.8 L263.5 201.4 L264.5 203.2 L265.5 205.5 L266.5 208.2 L267.5 211.4 L268.5 214.6 L269.5 217.8 L270.5 221.1 L271.5 224.7 L272.5 228.4 L273.5 231.6 L274.5 234.2 L275.5 236.8 L276.5 239.3 L277.5 241.8 L278.5 244.3 L279.5 246.8 L280.5 249.3 L281.5 251.8 L282.5 254.3 L283.5 256.8 L284.5 259.3 L285.5 261.8 L286.5 264.3 L287.5 266.6 L288.5 268.6 L289.5 270.3 L290.5 271.7 L291.5 272.8 L292.5 273.7 L293.5 274.4 L294.5 274.9 L295.5 275.4 L296.5 275.9 L297.5 276.3 L298.5 276.7 L299.5 277.1 L300.5 277.4 L301.5 277.8 L302.5 278.2 L303.5 278.5 L304.5 278.8 L305.5 279.1 L306.5 279.4 L307.5 279.7 L308.5 280.0 L309.5 280.3 L310.5 280.6 L311.5 280.9 L312.5 281.2 L313.5 281.5 L314.5 281.7 L315.5 282.0 L316.5 282.3 L317.5 282.6 L318.5 282.9 L319.5 283.2 L320.5 283.5 L321.5 283.8 L322.5 284.1 L323.5 284.4 L324.5 284.7 L325.5 285.0 L326.2 285.2"/>
<path stroke="#ff5a1f" d="M54.5 262.6 L55.5 262.6 L56.5 262.5 L57.5 262.5 L58.5 262.4 L59.5 262.3 L60.5 262.3 L61.5 262.2 L62.5 262.1 L63.5 262.0 L64.5 261.9 L65.5 261.8 L66.5 261.7 L67.5 261.6 L68.5 261.4 L69.5 261.3 L70.5 261.2 L71.5 261.1 L72.5 260.9 L73.5 260.8 L74.5 260.6 L75.5 260.5 L76.5 260.3 L77.5 260.2 L78.5 260.0 L79.5 259.8 L80.5 259.6 L81.5 259.4 L82.5 259.2 L83.5 259.0 L84.5 258.7 L85.5 258.5 L86.5 258.2 L87.5 257.8 L88.5 257.5 L89.5 257.1 L90.5 256.6 L91.5 256.2 L92.5 255.7 L93.5 255.1 L94.5 254.5 L95.5 253.9 L96.5 253.3 L97.5 252.6 L98.5 251.9 L99.5 251.1 L100.5 250.4 L101.5 249.6 L102.5 248.8 L103.5 247.9 L104.5 247.1 L105.5 246.2 L106.5 245.4 L107.5 244.5 L108.5 243.6 L109.5 242.7 L110.5 241.8 L111.5 240.9 L112.5 240.0 L113.5 239.0 L114.5 238.1 L115.5 237.2 L116.5 236.2 L117.5 235.3 L118.5 234.3 L119.5 233.3 L120.5 232.4 L121.5 231.4 L122.5 230.4 L123.5 229.3 L124.5 228.3 L125.5 227.2 L126.5 226.2 L127.5 225.1 L128.5 224.0 L129.5 222.9 L130.5 221.7 L131.5 220.5 L132.5 219.3 L133.5 218.1 L134.5 216.8 L135.5 215.5 L136.5 214.2 L137.5 212.8 L138.5 211.4 L139.5 210.0 L140.5 208.5 L141.5 207.1 L142.5 205.6 L143.5 204.1 L144.5 202.5 L145.5 201.0 L146.5 199.4 L147.5 197.8 L148.5 196.2 L149.5 194.6 L150.5 193.0 L151.5 191.4 L152.5 189.8 L153.5 188.2 L154.5 186.5 L155.5 184.9 L156.5 183.2 L157.5 181.5 L158.5 179.8 L159.5 178.1 L160.5 176.4 L161.5 174.7 L162.5 172.9 L163.5 171.2 L164.5 169.5 L165.5 167.7 L166.5 165.9 L167.5 164.2 L168.5 162.4 L169.5 160.6 L170.5 158.9 L171.5 157.2 L172.5 155.5 L173.5 153.8 L174.5 152.2 L175.5 150.6 L176.5 149.1 L177.5 147.6 L178.5 146.1 L179.5 144.6 L180.5 143.2 L181.5 141.8 L182.5 140.3 L183.5 139.0 L184.5 137.6 L185.5 136.3 L186.5 134.9 L187.5 133.7 L188.5 132.5 L189.5 131.3 L190.5 130.2 L191.5 129.2 L192.5 128.3 L193.5 127.4 L194.5 126.6 L195.5 125.9 L196.5 125.2 L197.5 124.6 L198.5 124.1 L199.5 123.8 L200.5 123.6 L201.5 123.5 L202.5 123.7 L203.5 123.9 L204.5 124.2 L205.5 124.5 L206.5 125.0 L207.5 125.4 L208.5 125.9 L209.5 126.5 L210.5 127.0 L211.5 127.6 L212.5 128.3 L213.5 129.0 L214.5 129.8 L215.5 130.7 L216.5 131.7 L217.5 132.8 L218.5 133.9 L219.5 135.1 L220.5 136.4 L221.5 137.6 L222.5 138.9 L223.5 140.2 L224.5 141.5 L225.5 142.9 L226.5 144.3 L227.5 145.7 L228.5 147.2 L229.5 148.7 L230.5 150.2 L231.5 151.7 L232.5 153.2 L233.5 154.7 L234.5 156.1 L235.5 157.5 L236.5 158.8 L237.5 160.2 L238.5 161.6 L239.5 162.9 L240.5 164.3 L241.5 165.6 L242.5 167.0 L243.5 168.3 L244.5 169.6 L245.5 171.0 L246.5 172.3 L247.5 173.7 L248.5 175.2 L249.5 176.8 L250.5 178.4 L251.5 180.0 L252.5 181.7 L253.5 183.4 L254.5 185.1 L255.5 186.7 L256.5 188.4 L257.5 190.1 L258.5 191.8 L259.5 193.4 L260.5 194.9 L261.5 196.3 L262.5 197.6 L263.5 199.2 L264.5 201.3 L265.5 203.9 L266.5 206.9 L267.5 210.1 L268.5 213.4 L269.5 216.6 L270.5 219.8 L271.5 223.1 L272.5 226.5 L273.5 229.7 L274.5 232.4 L275.5 235.0 L276.5 237.5 L277.5 240.0 L278.5 242.5 L279.5 245.0 L280.5 247.5 L281.5 250.0 L282.5 252.5 L283.5 255.0 L284.5 257.5 L285.5 260.0 L286.5 262.5 L287.5 264.9 L288.5 267.1 L289.5 269.0 L290.5 270.6 L291.5 271.9 L292.5 273.0 L293.5 273.8 L294.5 274.5 L295.5 275.0 L296.5 275.5 L297.5 276.0 L298.5 276.4 L299.5 276.8 L300.5 277.2 L301.5 277.6 L302.5 278.0 L303.5 278.4 L304.5 278.7 L305.5 279.0 L306.5 279.3 L307.5 279.6 L308.5 279.9 L309.5 280.2 L310.5 280.5 L311.5 280.8 L312.5 281.1 L313.5 281.4 L314.5 281.7 L315.5 282.0 L316.5 282.3 L317.5 282.6 L318.5 282.9 L319.5 283.2 L320.5 283.5 L321.5 283.8 L322.5 284.1 L323.5 284.4 L324.5 284.7 L325.5 285.0 L326.2 285.2"/>
<path stroke="#ff2a00" d="M54.5 263.6 L55.5 263.6 L56.5 263.5 L57.5 263.5 L58.5 263.4 L59.5 263.4 L60.5 263.3 L61.5 263.2 L62.5 263.1 L63.5 263.0 L64.5 262.9 L65.5 262.8 L66.5 262.7 L67.5 262.6 L68.5 262.5 L69.5 262.4 L70.5 262.2 L71.5 262.1 L72.5 261.9 L73.5 261.8 L74.5 261.6 L75.5 261.5 L76.5 261.3 L77.5 261.1 L78.5 260.9 L79.5 260.8 L80.5 260.6 L81.5 260.3 L82.5 260.1 L83.5 259.8 L84.5 259.6 L85.5 259.3 L86.5 259.0 L87.5 258.7 L88.5 258.3 L89.5 257.9 L90.5 257.5 L91.5 257.1 L92.5 256.6 L93.5 256.2 L94.5 255.6 L95.5 255.1 L96.5 254.5 L97.5 254.0 L98.5 253.3 L99.5 252.7 L100.5 252.1 L101.5 251.4 L102.5 250.7 L103.5 250.0 L104.5 249.3 L105.5 248.6 L106.5 247.9 L107.5 247.1 L108.5 246.4 L109.5 245.6 L110.5 244.9 L111.5 244.1 L112.5 243.4 L113.5 242.6 L114.5 241.8 L115.5 241.0 L116.5 240.1 L117.5 239.3 L118.5 238.5 L119.5 237.6 L120.5 236.7 L121.5 235.8 L122.5 234.9 L123.5 233.9 L124.5 232.9 L125.5 231.9 L126.5 230.9 L127.5 229.8 L128.5 228.7 L129.5 227.6 L130.5 226.4 L131.5 225.2 L132.5 224.0 L133.5 222.7 L134.5 221.4 L135.5 220.1 L136.5 218.8 L137.5 217.4 L138.5 216.0 L139.5 214.6 L140.5 213.1 L141.5 211.6 L142.5 210.1 L143.5 208.6 L144.5 207.1 L145.5 205.6 L146.5 204.0 L147.5 202.4 L148.5 200.8 L149.5 199.2 L150.5 197.6 L151.5 196.0 L152.5 194.4 L153.5 192.8 L154.5 191.1 L155.5 189.5 L156.5 187.8 L157.5 186.1 L158.5 184.4 L159.5 182.7 L160.5 181.0 L161.5 179.3 L162.5 177.5 L163.5 175.8 L164.5 174.1 L165.5 172.3 L166.5 170.6 L167.5 168.8 L168.5 167.0 L169.5 165.3 L170.5 163.5 L171.5 161.8 L172.5 160.1 L173.5 158.4 L174.5 156.8 L175.5 155.2 L176.5 153.7 L177.5 152.2 L178.5 150.8 L179.5 149.4 L180.5 148.0 L181.5 146.7 L182.5 145.5 L183.5 144.2 L184.5 143.0 L185.5 141.9 L186.5 140.8 L187.5 139.7 L188.5 138.7 L189.5 137.7 L190.5 136.8 L191.5 135.9 L192.5 135.1 L193.5 134.4 L194.5 133.8 L195.5 133.2 L196.5 132.7 L197.5 132.3 L198.5 132.0 L199.5 131.8 L200.5 131.8 L201.5 131.8 L202.5 131.9 L203.5 132.0 L204.5 132.3 L205.5 132.6 L206.5 132.9 L207.5 133.4 L208.5 133.9 L209.5 134.5 L210.5 135.2 L211.5 136.0 L212.5 136.8 L213.5 137.7 L214.5 138.6 L215.5 139.6 L216.5 140.6 L217.5 141.6 L218.5 142.7 L219.5 143.8 L220.5 145.0 L221.5 146.2 L222.5 147.5 L223.5 148.7 L224.5 150.1 L225.5 151.4 L226.5 152.8 L227.5 154.2 L228.5 155.7 L229.5 157.3 L230.5 158.8 L231.5 160.3 L232.5 161.9 L233.5 163.3 L234.5 164.8 L235.5 166.2 L236.5 167.6 L237.5 169.0 L238.5 170.4 L239.5 171.7 L240.5 173.0 L241.5 174.1 L242.5 175.2 L243.5 176.3 L244.5 177.5 L245.5 178.6 L246.5 179.9 L247.5 181.2 L248.5 182.5 L249.5 183.9 L250.5 185.3 L251.5 186.8 L252.5 188.3 L253.5 189.8 L254.5 191.4 L255.5 193.0 L256.5 194.6 L257.5 196.1 L258.5 197.7 L259.5 199.2 L260.5 200.8 L261.5 202.3 L262.5 204.1 L263.5 206.2 L264.5 208.8 L265.5 211.8 L266.5 215.0 L267.5 218.3 L268.5 221.5 L269.5 224.3 L270.5 226.9 L271.5 229.3 L272.5 231.8 L273.5 234.2 L274.5 236.7 L275.5 239.2 L276.5 241.7 L277.5 244.2 L278.5 246.8 L279.5 249.3 L280.5 251.8 L281.5 254.3 L282.5 256.8 L283.5 259.3 L284.5 261.8 L285.5 264.3 L286.5 266.6 L287.5 268.6 L288.5 270.3 L289.5 271.7 L290.5 272.9 L291.5 273.8 L292.5 274.5 L293.5 275.1 L294.5 275.5 L295.5 276.0 L296.5 276.3 L297.5 276.7 L298.5 277.1 L299.5 277.5 L300.5 277.8 L301.5 278.2 L302.5 278.5 L303.5 278.8 L304.5 279.1 L305.5 279.4 L306.5 279.7 L307.5 280.0 L308.5 280.2 L309.5 280.5 L310.5 280.8 L311.5 281.1 L312.5 281.3 L313.5 281.6 L314.5 281.9 L315.5 282.2 L316.5 282.4 L317.5 282.7 L318.5 283.0 L319.5 283.3 L320.5 283.6 L321.5 283.9 L322.5 284.1 L323.5 284.4 L324.5 284.7 L325.5 285.0 L326.2 285.2"/>
</g>
<line x1="196.7" y1="24" x2="196.7" y2="285" stroke="#404040" stroke-width="1.3"/>
<line x1="263" y1="40.7" x2="263" y2="200" stroke="#000" stroke-width="1.7"/>
<path d="M263 210 L258.3 192.2 L263 196 L267.7 192.2 Z" fill="#000"/>
<g fill="none" stroke-width="1.2" stroke-linejoin="round" stroke-linecap="round">
<path stroke="#ff00ff" d="M412.6 284.8 L413.8 284.6 L414.9 284.6 L416.1 284.5 L417.3 284.6 L418.5 284.4 L419.6 284.6 L420.8 284.4 L422.0 284.4 L423.1 284.3 L424.3 284.4 L425.5 284.1 L426.6 284.2 L427.8 284.2 L429.0 284.2 L430.2 284.0 L431.3 284.0 L432.5 283.9 L433.7 283.9 L434.8 283.9 L436.0 283.7 L437.2 283.8 L438.3 283.8 L439.5 283.7 L440.7 283.6 L441.9 283.4 L443.0 283.4 L444.2 283.3 L445.4 283.3 L446.5 283.3 L447.7 283.1 L448.9 283.0 L450.0 282.9 L451.2 282.8 L452.4 282.7 L453.6 282.6 L454.7 282.4 L455.9 282.5 L457.1 282.5 L458.2 282.3 L459.4 282.1 L460.6 281.9 L461.7 281.8 L462.9 282.0 L464.1 281.7 L465.3 281.4 L466.4 281.4 L467.6 281.5 L468.8 281.1 L469.9 281.0 L471.1 280.7 L472.3 280.5 L473.4 280.1 L474.6 280.0 L475.8 279.8 L477.0 279.6 L478.1 279.4 L479.3 279.1 L480.5 278.8 L481.6 278.6 L482.8 278.0 L484.0 278.0 L485.1 277.6 L486.3 277.1 L487.5 276.9 L488.7 276.5 L489.8 276.4 L491.0 276.1 L492.2 275.9 L493.3 274.8 L494.5 274.5 L495.7 274.3 L496.8 274.1 L498.0 273.9 L499.2 273.4 L500.4 272.5 L501.5 272.4 L502.7 272.2 L503.9 271.7 L505.0 271.4 L506.2 270.7 L507.4 270.2 L508.5 269.8 L509.7 269.4 L510.9 268.8 L512.1 268.2 L513.2 267.4 L514.4 267.1 L515.6 266.3 L516.7 265.8 L517.9 265.0 L519.1 263.9 L520.2 262.8 L521.4 261.8 L522.6 261.2 L523.8 260.1 L524.9 258.9 L526.1 258.0 L527.3 256.6 L528.4 255.9 L529.6 254.2 L530.8 253.5 L531.9 251.8 L533.1 250.5 L534.3 248.4 L535.5 247.4 L536.6 246.0 L537.8 243.7 L539.0 242.4 L540.1 240.8 L541.3 238.4 L542.5 237.4 L543.6 235.8 L544.8 233.2 L546.0 231.8 L547.2 229.1 L548.3 227.7 L549.5 224.8 L550.7 224.0 L551.8 221.5 L553.0 219.0 L554.2 216.2 L555.3 214.9 L556.5 212.8 L557.7 208.2 L558.9 207.5 L560.0 205.2 L561.2 202.1 L562.4 198.8 L563.5 197.8 L564.7 194.9 L565.9 192.5 L567.0 190.0 L568.2 189.1 L569.4 187.4 L570.6 184.5 L571.7 183.5 L572.9 180.6 L574.1 180.3 L575.2 178.2 L576.4 176.4 L577.6 175.0 L578.7 174.2 L579.9 172.8 L581.1 171.3 L582.3 169.9 L583.4 168.9 L584.6 168.6 L585.8 167.8 L586.9 168.1 L588.1 167.6 L589.3 166.9 L590.4 169.9 L591.6 171.6 L592.8 171.6 L594.0 172.6 L595.1 174.0 L596.3 175.6 L597.5 177.3 L598.6 178.2 L599.8 180.3 L601.0 181.6 L602.1 184.2 L603.3 185.5 L604.5 187.7 L605.7 189.0 L606.8 191.6 L608.0 193.0 L609.2 196.3 L610.3 196.1 L611.5 199.1 L612.7 202.1 L613.8 204.8 L615.0 205.4 L616.2 207.6 L617.4 209.4 L618.5 212.2 L619.7 213.3 L620.9 215.8 L622.0 217.2 L623.2 218.7 L624.4 221.6 L625.5 223.7 L626.7 226.1 L627.9 227.3 L629.1 229.1 L630.2 231.6 L631.4 233.4 L632.6 235.4 L633.7 237.1 L634.9 239.5 L636.1 240.9 L637.2 243.3 L638.4 244.6 L639.6 246.0 L640.8 246.5 L641.9 248.8 L643.1 250.2 L644.3 251.7 L645.4 253.1 L646.6 253.9 L647.8 255.6 L648.9 256.4 L650.1 258.4 L651.3 258.4 L652.5 259.3 L653.6 260.3 L654.8 261.4 L656.0 262.2 L657.1 263.9 L658.3 264.0 L659.5 264.4 L660.6 265.7 L661.8 265.9 L663.0 266.4 L664.2 267.6 L665.3 268.1 L666.5 268.4 L667.7 269.5 L668.8 269.8 L670.0 270.7 L671.2 271.0 L672.3 271.9 L673.5 272.1 L674.7 272.4 L675.9 273.7 L677.0 273.7 L678.2 274.3 L679.4 274.8 L680.5 275.4 L681.7 276.0 L682.9 276.5 L684.0 277.1 L684.2 277.4"/>
<path stroke="#6a38ff" d="M412.6 284.5 L413.8 284.5 L414.9 284.4 L416.1 284.5 L417.3 284.3 L418.5 284.3 L419.6 284.3 L420.8 284.1 L422.0 284.1 L423.1 284.0 L424.3 284.1 L425.5 284.1 L426.6 283.9 L427.8 283.8 L429.0 283.8 L430.2 283.7 L431.3 283.7 L432.5 283.7 L433.7 283.5 L434.8 283.4 L436.0 283.3 L437.2 283.3 L438.3 283.2 L439.5 283.0 L440.7 283.0 L441.9 282.9 L443.0 282.8 L444.2 282.6 L445.4 282.5 L446.5 282.5 L447.7 282.4 L448.9 282.6 L450.0 282.0 L451.2 282.1 L452.4 282.0 L453.6 282.0 L454.7 281.8 L455.9 281.5 L457.1 281.4 L458.2 281.4 L459.4 281.1 L460.6 281.1 L461.7 280.6 L462.9 280.9 L464.1 280.7 L465.3 280.3 L466.4 280.2 L467.6 279.9 L468.8 279.6 L469.9 279.5 L471.1 279.4 L472.3 279.0 L473.4 278.7 L474.6 278.5 L475.8 278.4 L477.0 278.2 L478.1 277.6 L479.3 277.6 L480.5 277.2 L481.6 276.6 L482.8 276.5 L484.0 276.3 L485.1 275.9 L486.3 275.7 L487.5 274.9 L488.7 274.9 L489.8 274.4 L491.0 273.9 L492.2 274.0 L493.3 273.6 L494.5 273.0 L495.7 272.9 L496.8 272.2 L498.0 271.9 L499.2 271.2 L500.4 271.3 L501.5 270.0 L502.7 269.9 L503.9 269.6 L505.0 268.4 L506.2 268.3 L507.4 267.8 L508.5 267.4 L509.7 266.9 L510.9 265.7 L512.1 264.7 L513.2 264.7 L514.4 263.8 L515.6 262.5 L516.7 261.8 L517.9 260.9 L519.1 260.0 L520.2 258.9 L521.4 258.3 L522.6 256.1 L523.8 256.0 L524.9 254.6 L526.1 253.1 L527.3 252.3 L528.4 249.8 L529.6 249.5 L530.8 247.7 L531.9 245.4 L533.1 244.3 L534.3 242.1 L535.5 241.2 L536.6 239.2 L537.8 236.6 L539.0 234.0 L540.1 232.0 L541.3 230.0 L542.5 227.7 L543.6 225.3 L544.8 223.1 L546.0 221.0 L547.2 218.6 L548.3 216.2 L549.5 213.8 L550.7 213.1 L551.8 208.8 L553.0 206.7 L554.2 205.1 L555.3 202.2 L556.5 200.3 L557.7 198.1 L558.9 196.1 L560.0 193.5 L561.2 190.2 L562.4 189.3 L563.5 185.2 L564.7 184.0 L565.9 181.5 L567.0 178.8 L568.2 177.9 L569.4 175.4 L570.6 174.5 L571.7 171.1 L572.9 171.3 L574.1 169.6 L575.2 167.9 L576.4 165.5 L577.6 165.1 L578.7 163.0 L579.9 161.6 L581.1 163.7 L582.3 162.2 L583.4 162.3 L584.6 160.4 L585.8 161.3 L586.9 161.6 L588.1 162.1 L589.3 162.4 L590.4 163.1 L591.6 162.9 L592.8 166.0 L594.0 167.1 L595.1 169.1 L596.3 169.6 L597.5 172.6 L598.6 172.7 L599.8 173.9 L601.0 177.4 L602.1 178.5 L603.3 180.0 L604.5 183.0 L605.7 185.6 L606.8 187.5 L608.0 190.0 L609.2 193.4 L610.3 195.0 L611.5 197.8 L612.7 197.8 L613.8 201.4 L615.0 203.7 L616.2 205.1 L617.4 206.8 L618.5 209.6 L619.7 211.2 L620.9 213.1 L622.0 216.1 L623.2 218.3 L624.4 219.8 L625.5 221.4 L626.7 224.0 L627.9 226.1 L629.1 228.0 L630.2 229.0 L631.4 231.6 L632.6 233.8 L633.7 235.9 L634.9 237.9 L636.1 239.6 L637.2 240.6 L638.4 242.4 L639.6 243.8 L640.8 246.6 L641.9 247.4 L643.1 248.9 L644.3 250.5 L645.4 251.3 L646.6 252.3 L647.8 253.8 L648.9 255.1 L650.1 256.8 L651.3 257.7 L652.5 258.1 L653.6 259.6 L654.8 260.5 L656.0 260.8 L657.1 261.9 L658.3 262.2 L659.5 263.5 L660.6 264.1 L661.8 264.4 L663.0 265.3 L664.2 266.2 L665.3 266.6 L666.5 267.5 L667.7 268.2 L668.8 268.4 L670.0 269.2 L671.2 270.3 L672.3 270.4 L673.5 270.8 L674.7 271.6 L675.9 271.9 L677.0 273.0 L678.2 273.4 L679.4 274.1 L680.5 274.6 L681.7 275.0 L682.9 275.6 L684.0 276.0 L684.2 275.9"/>
<path stroke="#a31cf5" d="M412.6 284.7 L413.8 284.5 L414.9 284.5 L416.1 284.3 L417.3 284.4 L418.5 284.3 L419.6 284.3 L420.8 284.2 L422.0 284.1 L423.1 284.0 L424.3 283.9 L425.5 284.0 L426.6 284.0 L427.8 284.0 L429.0 283.7 L430.2 283.6 L431.3 283.5 L432.5 283.4 L433.7 283.5 L434.8 283.3 L436.0 283.2 L437.2 283.2 L438.3 283.2 L439.5 283.0 L440.7 282.8 L441.9 282.7 L443.0 282.8 L444.2 282.6 L445.4 282.4 L446.5 282.4 L447.7 282.4 L448.9 282.4 L450.0 281.9 L451.2 281.8 L452.4 281.7 L453.6 281.4 L454.7 281.4 L455.9 281.2 L457.1 281.4 L458.2 281.0 L459.4 280.7 L460.6 280.8 L461.7 280.5 L462.9 280.1 L464.1 280.1 L465.3 279.9 L466.4 279.7 L467.6 279.6 L468.8 279.1 L469.9 279.1 L471.1 279.1 L472.3 278.8 L473.4 278.6 L474.6 278.4 L475.8 278.2 L477.0 277.5 L478.1 277.6 L479.3 276.9 L480.5 276.8 L481.6 276.3 L482.8 276.6 L484.0 276.3 L485.1 275.7 L486.3 275.8 L487.5 275.0 L488.7 274.8 L489.8 274.5 L491.0 273.9 L492.2 273.8 L493.3 273.8 L494.5 272.7 L495.7 272.8 L496.8 272.2 L498.0 272.2 L499.2 271.4 L500.4 271.0 L501.5 270.5 L502.7 269.9 L503.9 269.0 L505.0 269.1 L506.2 267.8 L507.4 267.6 L508.5 267.1 L509.7 266.1 L510.9 265.7 L512.1 265.2 L513.2 264.1 L514.4 263.0 L515.6 261.8 L516.7 261.2 L517.9 260.4 L519.1 259.4 L520.2 258.3 L521.4 257.7 L522.6 256.4 L523.8 255.4 L524.9 254.6 L526.1 252.9 L527.3 251.8 L528.4 251.4 L529.6 249.5 L530.8 247.2 L531.9 246.0 L533.1 244.6 L534.3 243.0 L535.5 240.6 L536.6 238.2 L537.8 236.0 L539.0 234.4 L540.1 232.0 L541.3 229.4 L542.5 227.2 L543.6 224.7 L544.8 222.9 L546.0 219.7 L547.2 217.9 L548.3 215.7 L549.5 213.1 L550.7 210.0 L551.8 208.9 L553.0 205.3 L554.2 203.6 L555.3 200.5 L556.5 197.5 L557.7 196.3 L558.9 194.1 L560.0 191.6 L561.2 189.6 L562.4 186.8 L563.5 184.5 L564.7 182.6 L565.9 181.7 L567.0 178.6 L568.2 175.2 L569.4 173.7 L570.6 170.8 L571.7 168.9 L572.9 168.2 L574.1 165.6 L575.2 163.2 L576.4 162.4 L577.6 161.8 L578.7 160.6 L579.9 160.4 L581.1 157.9 L582.3 158.2 L583.4 157.3 L584.6 156.5 L585.8 157.2 L586.9 157.1 L588.1 156.5 L589.3 158.7 L590.4 157.9 L591.6 159.9 L592.8 161.0 L594.0 162.6 L595.1 163.2 L596.3 165.2 L597.5 166.8 L598.6 169.3 L599.8 169.9 L601.0 172.6 L602.1 174.5 L603.3 176.0 L604.5 180.7 L605.7 181.6 L606.8 183.2 L608.0 187.6 L609.2 188.6 L610.3 192.0 L611.5 194.8 L612.7 196.1 L613.8 198.5 L615.0 200.6 L616.2 203.0 L617.4 204.2 L618.5 206.5 L619.7 209.2 L620.9 212.0 L622.0 213.8 L623.2 216.5 L624.4 218.0 L625.5 219.4 L626.7 221.7 L627.9 222.8 L629.1 225.4 L630.2 227.4 L631.4 230.0 L632.6 232.2 L633.7 233.6 L634.9 235.5 L636.1 237.0 L637.2 239.4 L638.4 241.3 L639.6 243.0 L640.8 244.1 L641.9 246.7 L643.1 247.8 L644.3 248.7 L645.4 249.9 L646.6 251.3 L647.8 252.7 L648.9 253.8 L650.1 255.2 L651.3 256.3 L652.5 257.6 L653.6 258.5 L654.8 259.0 L656.0 260.1 L657.1 260.7 L658.3 261.4 L659.5 262.9 L660.6 263.0 L661.8 264.4 L663.0 264.4 L664.2 265.2 L665.3 266.1 L666.5 266.4 L667.7 267.2 L668.8 267.6 L670.0 268.2 L671.2 268.9 L672.3 269.4 L673.5 270.5 L674.7 270.7 L675.9 271.7 L677.0 271.4 L678.2 272.4 L679.4 273.1 L680.5 273.4 L681.7 274.3 L682.9 274.7 L684.0 275.0 L684.2 275.3"/>
<path stroke="#1e90ff" d="M412.6 284.5 L413.8 284.4 L414.9 284.5 L416.1 284.2 L417.3 284.2 L418.5 284.2 L419.6 284.0 L420.8 284.0 L422.0 283.9 L423.1 283.8 L424.3 283.7 L425.5 283.7 L426.6 283.6 L427.8 283.6 L429.0 283.3 L430.2 283.3 L431.3 283.4 L432.5 283.4 L433.7 283.0 L434.8 283.1 L436.0 282.8 L437.2 282.7 L438.3 282.6 L439.5 282.6 L440.7 282.6 L441.9 282.5 L443.0 282.3 L444.2 282.1 L445.4 282.0 L446.5 281.9 L447.7 281.9 L448.9 281.6 L450.0 281.5 L451.2 281.3 L452.4 281.2 L453.6 281.1 L454.7 280.9 L455.9 280.9 L457.1 280.5 L458.2 280.5 L459.4 280.1 L460.6 279.9 L461.7 279.7 L462.9 279.5 L464.1 279.3 L465.3 279.2 L466.4 279.0 L467.6 278.7 L468.8 278.3 L469.9 278.1 L471.1 278.1 L472.3 277.7 L473.4 277.1 L474.6 277.0 L475.8 276.8 L477.0 276.8 L478.1 276.3 L479.3 276.5 L480.5 276.0 L481.6 275.6 L482.8 275.2 L484.0 275.1 L485.1 274.6 L486.3 274.1 L487.5 274.1 L488.7 273.6 L489.8 273.5 L491.0 272.8 L492.2 272.0 L493.3 272.3 L494.5 271.2 L495.7 271.6 L496.8 271.2 L498.0 270.2 L499.2 269.5 L500.4 268.9 L501.5 268.9 L502.7 268.0 L503.9 267.3 L505.0 266.8 L506.2 266.7 L507.4 265.6 L508.5 265.0 L509.7 264.2 L510.9 263.4 L512.1 262.6 L513.2 261.1 L514.4 260.3 L515.6 259.2 L516.7 258.2 L517.9 257.8 L519.1 256.2 L520.2 255.3 L521.4 254.0 L522.6 252.9 L523.8 252.2 L524.9 250.5 L526.1 249.1 L527.3 248.1 L528.4 246.5 L529.6 245.0 L530.8 242.9 L531.9 240.2 L533.1 239.1 L534.3 236.9 L535.5 234.8 L536.6 231.6 L537.8 230.5 L539.0 226.5 L540.1 224.9 L541.3 222.0 L542.5 219.1 L543.6 217.2 L544.8 214.0 L546.0 210.4 L547.2 208.4 L548.3 206.9 L549.5 205.4 L550.7 200.9 L551.8 199.4 L553.0 198.0 L554.2 195.1 L555.3 192.1 L556.5 189.2 L557.7 186.7 L558.9 185.2 L560.0 183.3 L561.2 180.0 L562.4 178.0 L563.5 177.0 L564.7 174.0 L565.9 171.1 L567.0 168.9 L568.2 166.2 L569.4 165.6 L570.6 164.4 L571.7 163.1 L572.9 160.6 L574.1 159.3 L575.2 158.6 L576.4 157.6 L577.6 156.3 L578.7 155.2 L579.9 152.9 L581.1 151.6 L582.3 153.1 L583.4 152.2 L584.6 152.4 L585.8 152.2 L586.9 152.5 L588.1 155.4 L589.3 155.6 L590.4 155.6 L591.6 157.9 L592.8 159.1 L594.0 160.7 L595.1 163.3 L596.3 163.4 L597.5 164.3 L598.6 167.2 L599.8 168.9 L601.0 172.2 L602.1 174.4 L603.3 177.1 L604.5 179.1 L605.7 182.5 L606.8 184.7 L608.0 188.1 L609.2 190.2 L610.3 192.2 L611.5 195.6 L612.7 197.1 L613.8 200.6 L615.0 202.2 L616.2 204.3 L617.4 206.2 L618.5 208.3 L619.7 209.3 L620.9 213.2 L622.0 214.2 L623.2 217.3 L624.4 218.5 L625.5 220.9 L626.7 222.9 L627.9 224.6 L629.1 227.1 L630.2 229.4 L631.4 231.0 L632.6 232.5 L633.7 234.8 L634.9 237.1 L636.1 239.3 L637.2 240.9 L638.4 242.3 L639.6 243.4 L640.8 245.6 L641.9 246.7 L643.1 248.0 L644.3 249.8 L645.4 251.0 L646.6 252.2 L647.8 252.7 L648.9 254.1 L650.1 254.8 L651.3 256.4 L652.5 257.4 L653.6 258.6 L654.8 259.3 L656.0 259.9 L657.1 261.5 L658.3 261.4 L659.5 262.0 L660.6 263.0 L661.8 264.0 L663.0 264.4 L664.2 265.0 L665.3 265.5 L666.5 266.8 L667.7 266.9 L668.8 267.4 L670.0 268.3 L671.2 268.7 L672.3 269.5 L673.5 270.4 L674.7 270.6 L675.9 271.3 L677.0 271.7 L678.2 272.3 L679.4 273.1 L680.5 273.6 L681.7 273.9 L682.9 274.3 L684.0 275.0 L684.2 275.3"/>
<path stroke="#2b2bff" d="M412.6 284.5 L413.8 284.5 L414.9 284.4 L416.1 284.2 L417.3 284.1 L418.5 284.2 L419.6 284.2 L420.8 283.9 L422.0 284.0 L423.1 283.8 L424.3 283.9 L425.5 283.7 L426.6 283.5 L427.8 283.6 L429.0 283.4 L430.2 283.3 L431.3 283.2 L432.5 283.1 L433.7 283.0 L434.8 282.9 L436.0 282.8 L437.2 282.8 L438.3 282.4 L439.5 282.4 L440.7 282.4 L441.9 282.0 L443.0 282.2 L444.2 282.0 L445.4 281.7 L446.5 281.7 L447.7 281.4 L448.9 281.2 L450.0 281.3 L451.2 281.2 L452.4 280.9 L453.6 280.7 L454.7 280.3 L455.9 280.2 L457.1 280.1 L458.2 280.0 L459.4 279.9 L460.6 279.4 L461.7 279.1 L462.9 279.2 L464.1 278.7 L465.3 278.3 L466.4 278.4 L467.6 277.8 L468.8 277.6 L469.9 277.2 L471.1 277.2 L472.3 277.1 L473.4 276.6 L474.6 276.5 L475.8 276.1 L477.0 276.3 L478.1 276.0 L479.3 275.3 L480.5 275.3 L481.6 275.1 L482.8 274.8 L484.0 274.3 L485.1 274.1 L486.3 274.0 L487.5 273.6 L488.7 273.0 L489.8 273.0 L491.0 272.3 L492.2 271.7 L493.3 271.8 L494.5 271.6 L495.7 271.1 L496.8 270.9 L498.0 270.5 L499.2 269.7 L500.4 268.9 L501.5 268.5 L502.7 267.6 L503.9 267.3 L505.0 266.6 L506.2 266.0 L507.4 265.5 L508.5 263.9 L509.7 263.9 L510.9 262.7 L512.1 262.2 L513.2 261.1 L514.4 259.7 L515.6 259.3 L516.7 257.7 L517.9 257.1 L519.1 255.6 L520.2 254.6 L521.4 253.7 L522.6 253.3 L523.8 251.7 L524.9 250.3 L526.1 249.7 L527.3 247.8 L528.4 246.2 L529.6 244.5 L530.8 243.3 L531.9 241.5 L533.1 239.1 L534.3 236.4 L535.5 234.8 L536.6 232.5 L537.8 229.6 L539.0 226.6 L540.1 223.7 L541.3 221.2 L542.5 219.3 L543.6 215.7 L544.8 211.7 L546.0 210.0 L547.2 206.4 L548.3 205.0 L549.5 200.9 L550.7 198.4 L551.8 196.0 L553.0 193.6 L554.2 191.1 L555.3 188.8 L556.5 186.3 L557.7 183.8 L558.9 181.7 L560.0 179.1 L561.2 177.4 L562.4 175.3 L563.5 173.4 L564.7 171.2 L565.9 168.9 L567.0 166.6 L568.2 163.2 L569.4 160.6 L570.6 158.2 L571.7 155.5 L572.9 153.7 L574.1 152.4 L575.2 149.3 L576.4 149.8 L577.6 147.6 L578.7 145.3 L579.9 146.3 L581.1 144.1 L582.3 145.3 L583.4 143.4 L584.6 144.1 L585.8 145.0 L586.9 144.4 L588.1 145.0 L589.3 146.7 L590.4 149.0 L591.6 150.0 L592.8 151.6 L594.0 152.2 L595.1 153.8 L596.3 155.9 L597.5 157.4 L598.6 158.4 L599.8 161.9 L601.0 163.5 L602.1 166.0 L603.3 169.7 L604.5 172.6 L605.7 176.5 L606.8 179.3 L608.0 182.0 L609.2 185.2 L610.3 187.7 L611.5 190.4 L612.7 193.9 L613.8 195.7 L615.0 197.5 L616.2 199.8 L617.4 201.9 L618.5 204.4 L619.7 205.8 L620.9 209.2 L622.0 210.9 L623.2 213.6 L624.4 215.9 L625.5 217.7 L626.7 219.2 L627.9 221.2 L629.1 224.3 L630.2 226.4 L631.4 227.3 L632.6 229.6 L633.7 232.5 L634.9 234.0 L636.1 236.8 L637.2 237.9 L638.4 239.9 L639.6 241.1 L640.8 242.6 L641.9 243.7 L643.1 244.9 L644.3 247.5 L645.4 248.7 L646.6 249.5 L647.8 251.2 L648.9 251.4 L650.1 253.6 L651.3 254.2 L652.5 255.6 L653.6 255.5 L654.8 257.5 L656.0 258.2 L657.1 258.9 L658.3 259.4 L659.5 260.6 L660.6 261.3 L661.8 261.8 L663.0 262.3 L664.2 263.0 L665.3 263.9 L666.5 265.0 L667.7 265.7 L668.8 266.5 L670.0 266.8 L671.2 266.9 L672.3 267.7 L673.5 268.2 L674.7 269.0 L675.9 270.0 L677.0 270.2 L678.2 270.7 L679.4 271.5 L680.5 272.1 L681.7 272.7 L682.9 272.8 L684.0 273.3 L684.2 273.5"/>
<path stroke="#00e0ff" d="M412.6 284.3 L413.8 284.3 L414.9 284.1 L416.1 284.2 L417.3 284.0 L418.5 283.9 L419.6 283.9 L420.8 283.9 L422.0 283.8 L423.1 283.6 L424.3 283.7 L425.5 283.5 L426.6 283.5 L427.8 283.4 L429.0 283.2 L430.2 283.2 L431.3 283.0 L432.5 283.2 L433.7 283.0 L434.8 282.8 L436.0 282.6 L437.2 282.6 L438.3 282.5 L439.5 282.3 L440.7 282.5 L441.9 282.2 L443.0 282.2 L444.2 281.8 L445.4 282.0 L446.5 281.5 L447.7 281.4 L448.9 281.4 L450.0 281.2 L451.2 280.8 L452.4 280.7 L453.6 280.8 L454.7 280.8 L455.9 280.5 L457.1 280.1 L458.2 280.1 L459.4 279.6 L460.6 279.6 L461.7 279.1 L462.9 279.1 L464.1 278.8 L465.3 278.8 L466.4 278.3 L467.6 278.4 L468.8 277.9 L469.9 277.8 L471.1 277.6 L472.3 276.8 L473.4 276.9 L474.6 276.7 L475.8 276.2 L477.0 276.1 L478.1 275.5 L479.3 275.6 L480.5 275.3 L481.6 275.0 L482.8 275.0 L484.0 274.3 L485.1 273.9 L486.3 273.3 L487.5 273.2 L488.7 272.5 L489.8 272.6 L491.0 271.8 L492.2 271.6 L493.3 271.6 L494.5 270.9 L495.7 270.2 L496.8 269.9 L498.0 269.0 L499.2 268.7 L500.4 267.9 L501.5 267.0 L502.7 266.7 L503.9 266.2 L505.0 265.1 L506.2 264.2 L507.4 263.5 L508.5 262.2 L509.7 261.8 L510.9 260.7 L512.1 260.7 L513.2 258.9 L514.4 257.6 L515.6 257.4 L516.7 256.0 L517.9 255.0 L519.1 253.9 L520.2 252.7 L521.4 251.3 L522.6 250.4 L523.8 248.9 L524.9 247.0 L526.1 245.5 L527.3 243.4 L528.4 242.0 L529.6 240.2 L530.8 238.0 L531.9 235.8 L533.1 233.2 L534.3 231.7 L535.5 228.4 L536.6 226.1 L537.8 223.4 L539.0 221.1 L540.1 218.4 L541.3 217.1 L542.5 213.8 L543.6 210.1 L544.8 208.4 L546.0 205.4 L547.2 204.4 L548.3 202.3 L549.5 198.8 L550.7 197.1 L551.8 194.3 L553.0 192.4 L554.2 191.0 L555.3 187.4 L556.5 184.6 L557.7 183.8 L558.9 181.4 L560.0 179.2 L561.2 177.0 L562.4 173.3 L563.5 169.9 L564.7 169.8 L565.9 166.9 L567.0 164.7 L568.2 163.3 L569.4 163.6 L570.6 161.6 L571.7 160.5 L572.9 159.8 L574.1 157.5 L575.2 156.2 L576.4 155.5 L577.6 154.6 L578.7 154.6 L579.9 153.7 L581.1 154.3 L582.3 153.9 L583.4 154.4 L584.6 155.4 L585.8 156.7 L586.9 157.6 L588.1 157.4 L589.3 158.5 L590.4 159.0 L591.6 161.4 L592.8 163.0 L594.0 162.8 L595.1 165.3 L596.3 166.0 L597.5 167.8 L598.6 170.2 L599.8 172.0 L601.0 175.2 L602.1 176.0 L603.3 179.1 L604.5 182.1 L605.7 184.1 L606.8 187.7 L608.0 189.1 L609.2 192.7 L610.3 194.1 L611.5 197.2 L612.7 199.8 L613.8 202.9 L615.0 204.4 L616.2 206.8 L617.4 208.0 L618.5 211.3 L619.7 212.1 L620.9 214.2 L622.0 215.7 L623.2 218.6 L624.4 221.2 L625.5 222.3 L626.7 224.5 L627.9 226.5 L629.1 228.6 L630.2 230.5 L631.4 232.1 L632.6 235.3 L633.7 235.7 L634.9 238.0 L636.1 240.4 L637.2 242.3 L638.4 243.4 L639.6 244.9 L640.8 246.5 L641.9 247.8 L643.1 249.6 L644.3 250.4 L645.4 251.5 L646.6 252.9 L647.8 254.2 L648.9 255.7 L650.1 256.9 L651.3 257.2 L652.5 257.8 L653.6 258.8 L654.8 260.7 L656.0 260.8 L657.1 261.8 L658.3 263.0 L659.5 263.0 L660.6 263.8 L661.8 264.4 L663.0 264.9 L664.2 266.1 L665.3 266.8 L666.5 266.6 L667.7 268.0 L668.8 268.3 L670.0 269.0 L671.2 269.6 L672.3 269.9 L673.5 270.7 L674.7 271.1 L675.9 272.3 L677.0 272.9 L678.2 273.0 L679.4 273.3 L680.5 274.3 L681.7 274.6 L682.9 275.5 L684.0 276.0 L684.2 276.0"/>
<path stroke="#66ff99" d="M412.6 284.3 L413.8 284.1 L414.9 284.0 L416.1 284.0 L417.3 283.8 L418.5 283.7 L419.6 283.6 L420.8 283.4 L422.0 283.5 L423.1 283.3 L424.3 283.1 L425.5 283.0 L426.6 282.9 L427.8 282.7 L429.0 282.6 L430.2 282.3 L431.3 282.4 L432.5 282.1 L433.7 282.0 L434.8 281.6 L436.0 281.8 L437.2 281.4 L438.3 281.1 L439.5 281.2 L440.7 280.8 L441.9 280.4 L443.0 280.3 L444.2 279.9 L445.4 280.1 L446.5 279.7 L447.7 279.4 L448.9 279.4 L450.0 278.8 L451.2 278.9 L452.4 278.2 L453.6 278.2 L454.7 277.8 L455.9 278.0 L457.1 277.8 L458.2 277.1 L459.4 277.0 L460.6 276.5 L461.7 276.3 L462.9 275.7 L464.1 275.2 L465.3 274.7 L466.4 274.7 L467.6 274.5 L468.8 273.6 L469.9 272.9 L471.1 272.9 L472.3 272.0 L473.4 271.3 L474.6 270.8 L475.8 270.0 L477.0 269.3 L478.1 268.4 L479.3 268.2 L480.5 267.3 L481.6 266.9 L482.8 265.8 L484.0 264.6 L485.1 264.3 L486.3 264.1 L487.5 262.6 L488.7 261.6 L489.8 260.5 L491.0 259.6 L492.2 258.8 L493.3 257.4 L494.5 257.1 L495.7 255.3 L496.8 254.2 L498.0 253.4 L499.2 252.1 L500.4 250.1 L501.5 248.8 L502.7 247.4 L503.9 245.5 L505.0 243.2 L506.2 242.4 L507.4 240.7 L508.5 238.6 L509.7 236.1 L510.9 234.4 L512.1 232.2 L513.2 230.2 L514.4 228.9 L515.6 226.8 L516.7 224.2 L517.9 221.8 L519.1 219.5 L520.2 216.6 L521.4 213.9 L522.6 210.8 L523.8 208.4 L524.9 206.7 L526.1 203.1 L527.3 199.4 L528.4 196.3 L529.6 192.9 L530.8 190.6 L531.9 187.4 L533.1 182.9 L534.3 180.9 L535.5 176.9 L536.6 175.1 L537.8 170.9 L539.0 168.9 L540.1 164.2 L541.3 161.3 L542.5 158.7 L543.6 156.4 L544.8 153.2 L546.0 148.9 L547.2 147.2 L548.3 144.3 L549.5 141.2 L550.7 138.3 L551.8 137.6 L553.0 133.1 L554.2 130.1 L555.3 128.8 L556.5 125.9 L557.7 123.2 L558.9 121.5 L560.0 118.9 L561.2 116.6 L562.4 115.1 L563.5 112.6 L564.7 110.2 L565.9 109.0 L567.0 107.7 L568.2 107.6 L569.4 105.8 L570.6 104.9 L571.7 106.8 L572.9 105.8 L574.1 105.8 L575.2 108.8 L576.4 108.7 L577.6 110.9 L578.7 111.3 L579.9 112.5 L581.1 114.3 L582.3 117.2 L583.4 119.9 L584.6 122.0 L585.8 125.1 L586.9 126.8 L588.1 130.9 L589.3 132.1 L590.4 136.3 L591.6 139.9 L592.8 143.1 L594.0 146.5 L595.1 146.7 L596.3 151.4 L597.5 154.7 L598.6 157.4 L599.8 158.9 L601.0 162.8 L602.1 166.8 L603.3 167.2 L604.5 171.5 L605.7 174.8 L606.8 176.2 L608.0 179.8 L609.2 181.3 L610.3 184.0 L611.5 186.5 L612.7 189.7 L613.8 191.9 L615.0 195.0 L616.2 196.2 L617.4 199.1 L618.5 202.1 L619.7 204.2 L620.9 205.4 L622.0 208.9 L623.2 210.6 L624.4 213.3 L625.5 215.5 L626.7 218.3 L627.9 219.8 L629.1 220.9 L630.2 223.2 L631.4 226.3 L632.6 227.8 L633.7 230.4 L634.9 231.9 L636.1 233.2 L637.2 235.9 L638.4 236.8 L639.6 238.0 L640.8 241.4 L641.9 241.4 L643.1 244.0 L644.3 245.6 L645.4 246.7 L646.6 247.3 L647.8 249.6 L648.9 249.9 L650.1 251.1 L651.3 252.5 L652.5 253.9 L653.6 254.8 L654.8 255.9 L656.0 256.4 L657.1 257.4 L658.3 257.9 L659.5 259.0 L660.6 260.1 L661.8 260.6 L663.0 261.5 L664.2 261.9 L665.3 262.6 L666.5 263.4 L667.7 264.0 L668.8 264.9 L670.0 265.4 L671.2 266.5 L672.3 266.6 L673.5 267.2 L674.7 267.6 L675.9 268.4 L677.0 269.2 L678.2 269.4 L679.4 270.1 L680.5 270.8 L681.7 271.2 L682.9 271.7 L684.0 272.5 L684.2 272.4"/>
<path stroke="#ccff33" d="M412.6 284.0 L413.8 283.9 L414.9 283.6 L416.1 283.5 L417.3 283.4 L418.5 283.6 L419.6 283.4 L420.8 283.3 L422.0 283.1 L423.1 283.0 L424.3 282.6 L425.5 282.8 L426.6 282.3 L427.8 282.2 L429.0 282.0 L430.2 281.8 L431.3 281.8 L432.5 281.5 L433.7 281.3 L434.8 281.1 L436.0 281.1 L437.2 280.6 L438.3 280.4 L439.5 280.3 L440.7 279.8 L441.9 279.7 L443.0 279.6 L444.2 279.5 L445.4 279.1 L446.5 278.7 L447.7 278.8 L448.9 278.2 L450.0 278.0 L451.2 277.7 L452.4 277.4 L453.6 277.0 L454.7 276.9 L455.9 276.2 L457.1 276.0 L458.2 275.6 L459.4 275.1 L460.6 274.9 L461.7 274.5 L462.9 274.0 L464.1 273.5 L465.3 273.1 L466.4 272.8 L467.6 272.0 L468.8 270.6 L469.9 270.7 L471.1 269.3 L472.3 268.6 L473.4 268.4 L474.6 267.3 L475.8 267.4 L477.0 266.4 L478.1 265.2 L479.3 264.2 L480.5 263.9 L481.6 263.4 L482.8 262.2 L484.0 261.8 L485.1 260.4 L486.3 259.4 L487.5 257.9 L488.7 257.0 L489.8 255.5 L491.0 253.6 L492.2 253.6 L493.3 251.4 L494.5 250.0 L495.7 248.9 L496.8 246.9 L498.0 245.3 L499.2 243.8 L500.4 241.5 L501.5 240.9 L502.7 238.6 L503.9 236.4 L505.0 235.3 L506.2 233.2 L507.4 230.6 L508.5 229.2 L509.7 227.1 L510.9 225.3 L512.1 223.2 L513.2 221.2 L514.4 218.0 L515.6 216.4 L516.7 213.6 L517.9 212.1 L519.1 208.6 L520.2 205.8 L521.4 204.2 L522.6 203.1 L523.8 199.9 L524.9 196.4 L526.1 194.7 L527.3 190.2 L528.4 187.0 L529.6 184.4 L530.8 180.7 L531.9 177.0 L533.1 173.3 L534.3 170.1 L535.5 167.4 L536.6 162.1 L537.8 159.0 L539.0 156.9 L540.1 153.8 L541.3 147.0 L542.5 145.2 L543.6 142.6 L544.8 137.5 L546.0 133.6 L547.2 131.8 L548.3 126.9 L549.5 123.5 L550.7 120.5 L551.8 116.8 L553.0 113.5 L554.2 113.7 L555.3 111.9 L556.5 108.4 L557.7 106.2 L558.9 105.4 L560.0 103.4 L561.2 100.7 L562.4 100.1 L563.5 100.6 L564.7 98.9 L565.9 97.0 L567.0 96.6 L568.2 98.7 L569.4 96.6 L570.6 99.9 L571.7 100.4 L572.9 100.6 L574.1 103.0 L575.2 105.2 L576.4 107.1 L577.6 108.6 L578.7 111.2 L579.9 112.2 L581.1 112.6 L582.3 114.8 L583.4 116.3 L584.6 119.1 L585.8 122.3 L586.9 123.3 L588.1 128.0 L589.3 130.9 L590.4 133.6 L591.6 135.7 L592.8 139.3 L594.0 142.1 L595.1 145.6 L596.3 147.0 L597.5 151.2 L598.6 154.8 L599.8 156.7 L601.0 159.6 L602.1 163.8 L603.3 167.6 L604.5 169.5 L605.7 172.4 L606.8 174.8 L608.0 178.1 L609.2 180.7 L610.3 182.3 L611.5 185.9 L612.7 188.8 L613.8 190.3 L615.0 193.5 L616.2 196.5 L617.4 198.7 L618.5 200.5 L619.7 204.1 L620.9 205.9 L622.0 207.5 L623.2 208.8 L624.4 212.1 L625.5 214.6 L626.7 216.5 L627.9 218.9 L629.1 221.8 L630.2 223.4 L631.4 225.6 L632.6 226.1 L633.7 228.7 L634.9 231.2 L636.1 231.9 L637.2 235.0 L638.4 235.3 L639.6 237.3 L640.8 239.9 L641.9 240.0 L643.1 242.8 L644.3 243.4 L645.4 245.0 L646.6 246.8 L647.8 248.1 L648.9 249.6 L650.1 250.5 L651.3 251.6 L652.5 252.3 L653.6 253.8 L654.8 254.0 L656.0 255.9 L657.1 256.6 L658.3 257.9 L659.5 258.7 L660.6 258.6 L661.8 260.0 L663.0 260.3 L664.2 261.1 L665.3 262.2 L666.5 262.8 L667.7 263.5 L668.8 264.0 L670.0 264.7 L671.2 265.0 L672.3 265.8 L673.5 266.8 L674.7 267.0 L675.9 267.7 L677.0 268.7 L678.2 269.1 L679.4 269.5 L680.5 270.3 L681.7 271.2 L682.9 271.2 L684.0 271.7 L684.2 272.1"/>
<path stroke="#ffcc00" d="M412.6 283.4 L413.8 283.1 L414.9 282.9 L416.1 282.7 L417.3 282.7 L418.5 282.5 L419.6 282.4 L420.8 282.3 L422.0 282.2 L423.1 281.8 L424.3 281.7 L425.5 281.6 L426.6 281.5 L427.8 281.3 L429.0 280.9 L430.2 280.7 L431.3 280.8 L432.5 280.7 L433.7 280.2 L434.8 279.9 L436.0 279.9 L437.2 279.4 L438.3 279.3 L439.5 279.1 L440.7 278.7 L441.9 278.3 L443.0 278.1 L444.2 277.6 L445.4 277.3 L446.5 276.9 L447.7 276.6 L448.9 276.2 L450.0 275.8 L451.2 275.3 L452.4 274.9 L453.6 274.4 L454.7 274.0 L455.9 273.7 L457.1 272.5 L458.2 272.5 L459.4 271.6 L460.6 270.8 L461.7 270.4 L462.9 269.8 L464.1 269.3 L465.3 268.0 L466.4 267.6 L467.6 266.7 L468.8 265.3 L469.9 264.5 L471.1 264.1 L472.3 263.2 L473.4 262.3 L474.6 261.1 L475.8 260.1 L477.0 258.9 L478.1 258.2 L479.3 256.4 L480.5 255.5 L481.6 254.5 L482.8 252.6 L484.0 252.5 L485.1 250.5 L486.3 249.4 L487.5 248.9 L488.7 246.4 L489.8 245.1 L491.0 244.5 L492.2 241.8 L493.3 240.5 L494.5 239.2 L495.7 237.4 L496.8 235.7 L498.0 233.8 L499.2 232.4 L500.4 230.3 L501.5 228.2 L502.7 225.6 L503.9 223.5 L505.0 220.7 L506.2 219.9 L507.4 216.4 L508.5 215.5 L509.7 213.6 L510.9 209.3 L512.1 206.7 L513.2 203.7 L514.4 201.1 L515.6 196.4 L516.7 193.1 L517.9 188.9 L519.1 185.1 L520.2 182.1 L521.4 176.5 L522.6 173.2 L523.8 169.3 L524.9 165.8 L526.1 160.2 L527.3 158.0 L528.4 153.6 L529.6 150.0 L530.8 145.5 L531.9 140.2 L533.1 137.0 L534.3 134.3 L535.5 129.6 L536.6 125.4 L537.8 122.9 L539.0 118.8 L540.1 112.5 L541.3 109.7 L542.5 101.1 L543.6 96.1 L544.8 94.0 L546.0 88.2 L547.2 84.5 L548.3 80.2 L549.5 75.4 L550.7 72.2 L551.8 67.8 L553.0 62.3 L554.2 60.5 L555.3 57.1 L556.5 55.7 L557.7 49.7 L558.9 48.4 L560.0 45.6 L561.2 43.8 L562.4 43.8 L563.5 40.7 L564.7 38.7 L565.9 38.9 L567.0 40.0 L568.2 39.2 L569.4 41.7 L570.6 45.7 L571.7 47.2 L572.9 48.5 L574.1 50.5 L575.2 53.4 L576.4 54.5 L577.6 60.1 L578.7 62.5 L579.9 65.6 L581.1 67.5 L582.3 71.6 L583.4 76.4 L584.6 79.7 L585.8 82.5 L586.9 87.0 L588.1 91.1 L589.3 93.1 L590.4 97.0 L591.6 100.6 L592.8 104.4 L594.0 110.5 L595.1 114.7 L596.3 119.3 L597.5 123.0 L598.6 128.2 L599.8 133.9 L601.0 138.1 L602.1 142.7 L603.3 145.9 L604.5 150.6 L605.7 155.0 L606.8 158.2 L608.0 161.7 L609.2 163.9 L610.3 167.9 L611.5 170.3 L612.7 174.6 L613.8 177.0 L615.0 180.1 L616.2 183.2 L617.4 187.1 L618.5 189.7 L619.7 192.3 L620.9 193.9 L622.0 197.1 L623.2 198.4 L624.4 202.5 L625.5 203.7 L626.7 206.1 L627.9 208.1 L629.1 209.4 L630.2 211.6 L631.4 214.4 L632.6 217.3 L633.7 217.9 L634.9 220.2 L636.1 222.5 L637.2 223.6 L638.4 225.5 L639.6 228.1 L640.8 230.1 L641.9 231.8 L643.1 234.5 L644.3 235.4 L645.4 237.4 L646.6 239.5 L647.8 241.1 L648.9 241.2 L650.1 243.2 L651.3 245.2 L652.5 245.5 L653.6 247.0 L654.8 248.0 L656.0 249.2 L657.1 250.4 L658.3 252.0 L659.5 253.5 L660.6 254.6 L661.8 255.1 L663.0 255.3 L664.2 256.9 L665.3 257.7 L666.5 258.8 L667.7 259.4 L668.8 259.7 L670.0 261.2 L671.2 261.2 L672.3 262.4 L673.5 263.4 L674.7 264.2 L675.9 265.3 L677.0 265.1 L678.2 266.6 L679.4 267.4 L680.5 268.0 L681.7 269.0 L682.9 269.4 L684.0 270.6 L684.2 270.6"/>
<path stroke="#ff6618" d="M412.6 283.2 L413.8 283.0 L414.9 282.9 L416.1 282.6 L417.3 282.7 L418.5 282.3 L419.6 282.3 L420.8 282.1 L422.0 281.9 L423.1 282.1 L424.3 281.6 L425.5 281.6 L426.6 281.5 L427.8 281.0 L429.0 281.1 L430.2 280.7 L431.3 280.7 L432.5 280.2 L433.7 279.9 L434.8 280.0 L436.0 279.6 L437.2 279.3 L438.3 279.1 L439.5 278.8 L440.7 278.2 L441.9 277.8 L443.0 277.5 L444.2 277.1 L445.4 276.8 L446.5 276.6 L447.7 276.3 L448.9 276.0 L450.0 275.6 L451.2 275.0 L452.4 274.5 L453.6 274.1 L454.7 273.3 L455.9 272.9 L457.1 272.4 L458.2 271.7 L459.4 271.1 L460.6 270.6 L461.7 270.3 L462.9 269.4 L464.1 268.5 L465.3 267.6 L466.4 266.9 L467.6 266.6 L468.8 264.6 L469.9 264.4 L471.1 263.3 L472.3 262.5 L473.4 260.9 L474.6 260.9 L475.8 259.5 L477.0 258.1 L478.1 257.1 L479.3 255.6 L480.5 254.7 L481.6 253.5 L482.8 252.7 L484.0 251.2 L485.1 249.8 L486.3 248.8 L487.5 247.4 L488.7 245.8 L489.8 243.6 L491.0 243.1 L492.2 240.6 L493.3 239.0 L494.5 237.7 L495.7 236.2 L496.8 234.8 L498.0 231.4 L499.2 231.0 L500.4 229.2 L501.5 226.2 L502.7 224.3 L503.9 222.0 L505.0 219.8 L506.2 217.2 L507.4 214.6 L508.5 213.1 L509.7 210.7 L510.9 208.9 L512.1 204.2 L513.2 200.2 L514.4 197.9 L515.6 193.7 L516.7 190.2 L517.9 185.7 L519.1 180.9 L520.2 177.1 L521.4 173.9 L522.6 169.3 L523.8 164.2 L524.9 161.3 L526.1 155.3 L527.3 151.8 L528.4 148.2 L529.6 142.7 L530.8 138.6 L531.9 135.3 L533.1 130.9 L534.3 126.3 L535.5 121.5 L536.6 116.4 L537.8 111.9 L539.0 109.5 L540.1 101.8 L541.3 98.5 L542.5 91.2 L543.6 88.1 L544.8 83.3 L546.0 78.1 L547.2 72.8 L548.3 68.0 L549.5 66.5 L550.7 60.4 L551.8 56.8 L553.0 56.6 L554.2 53.5 L555.3 49.2 L556.5 46.5 L557.7 43.9 L558.9 43.1 L560.0 40.5 L561.2 37.9 L562.4 37.5 L563.5 37.7 L564.7 35.1 L565.9 35.7 L567.0 37.1 L568.2 39.6 L569.4 39.0 L570.6 40.3 L571.7 44.2 L572.9 43.0 L574.1 45.6 L575.2 49.8 L576.4 52.6 L577.6 54.7 L578.7 54.9 L579.9 61.2 L581.1 64.6 L582.3 67.7 L583.4 72.2 L584.6 76.9 L585.8 79.4 L586.9 82.4 L588.1 85.5 L589.3 91.4 L590.4 94.6 L591.6 98.9 L592.8 102.7 L594.0 108.4 L595.1 113.5 L596.3 118.0 L597.5 121.8 L598.6 128.7 L599.8 133.0 L601.0 135.6 L602.1 141.9 L603.3 143.7 L604.5 148.1 L605.7 153.4 L606.8 156.5 L608.0 158.9 L609.2 162.2 L610.3 166.5 L611.5 168.3 L612.7 173.3 L613.8 176.1 L615.0 180.2 L616.2 182.7 L617.4 185.1 L618.5 188.9 L619.7 191.2 L620.9 193.0 L622.0 195.6 L623.2 198.0 L624.4 200.9 L625.5 203.6 L626.7 205.3 L627.9 206.8 L629.1 209.5 L630.2 212.1 L631.4 214.5 L632.6 215.4 L633.7 218.2 L634.9 219.8 L636.1 221.0 L637.2 223.3 L638.4 225.6 L639.6 227.6 L640.8 229.5 L641.9 231.3 L643.1 233.5 L644.3 234.7 L645.4 236.1 L646.6 238.7 L647.8 239.8 L648.9 241.9 L650.1 242.7 L651.3 244.9 L652.5 245.3 L653.6 246.6 L654.8 248.5 L656.0 250.1 L657.1 250.3 L658.3 252.3 L659.5 253.3 L660.6 254.1 L661.8 254.7 L663.0 255.1 L664.2 256.2 L665.3 257.3 L666.5 258.6 L667.7 259.2 L668.8 259.8 L670.0 260.9 L671.2 261.1 L672.3 262.5 L673.5 262.9 L674.7 264.3 L675.9 264.8 L677.0 265.3 L678.2 266.2 L679.4 266.7 L680.5 268.0 L681.7 268.5 L682.9 269.5 L684.0 270.6 L684.2 270.5"/>
<path stroke="#ff9900" d="M412.6 283.4 L413.8 283.3 L414.9 283.1 L416.1 283.1 L417.3 282.9 L418.5 282.8 L419.6 282.5 L420.8 282.5 L422.0 282.4 L423.1 282.2 L424.3 282.2 L425.5 282.1 L426.6 281.8 L427.8 281.7 L429.0 281.7 L430.2 281.3 L431.3 281.3 L432.5 280.7 L433.7 280.6 L434.8 280.6 L436.0 280.3 L437.2 279.9 L438.3 279.8 L439.5 279.5 L440.7 279.2 L441.9 278.8 L443.0 278.6 L444.2 278.3 L445.4 277.9 L446.5 277.3 L447.7 277.3 L448.9 277.3 L450.0 276.2 L451.2 276.0 L452.4 275.7 L453.6 275.3 L454.7 275.0 L455.9 274.5 L457.1 274.0 L458.2 273.5 L459.4 272.5 L460.6 272.0 L461.7 271.3 L462.9 270.9 L464.1 270.0 L465.3 269.2 L466.4 269.2 L467.6 267.8 L468.8 266.9 L469.9 266.4 L471.1 265.0 L472.3 264.3 L473.4 263.4 L474.6 262.1 L475.8 261.2 L477.0 260.8 L478.1 259.7 L479.3 258.7 L480.5 258.2 L481.6 256.6 L482.8 256.4 L484.0 254.2 L485.1 253.0 L486.3 252.4 L487.5 251.5 L488.7 250.8 L489.8 248.7 L491.0 247.4 L492.2 246.1 L493.3 245.4 L494.5 242.2 L495.7 241.4 L496.8 239.3 L498.0 237.0 L499.2 235.3 L500.4 233.5 L501.5 231.0 L502.7 229.3 L503.9 227.5 L505.0 225.5 L506.2 222.7 L507.4 220.6 L508.5 218.6 L509.7 216.7 L510.9 213.9 L512.1 211.9 L513.2 208.7 L514.4 204.3 L515.6 202.6 L516.7 198.1 L517.9 195.2 L519.1 191.2 L520.2 188.0 L521.4 183.7 L522.6 179.9 L523.8 174.8 L524.9 173.1 L526.1 168.3 L527.3 164.1 L528.4 161.6 L529.6 157.3 L530.8 153.2 L531.9 149.6 L533.1 145.5 L534.3 140.6 L535.5 136.4 L536.6 134.2 L537.8 130.0 L539.0 125.2 L540.1 120.6 L541.3 116.8 L542.5 112.6 L543.6 107.7 L544.8 104.0 L546.0 99.7 L547.2 94.2 L548.3 91.5 L549.5 85.8 L550.7 81.2 L551.8 80.6 L553.0 76.6 L554.2 76.4 L555.3 70.9 L556.5 71.1 L557.7 68.2 L558.9 67.3 L560.0 64.6 L561.2 67.0 L562.4 63.8 L563.5 65.8 L564.7 63.4 L565.9 62.2 L567.0 63.0 L568.2 66.1 L569.4 65.5 L570.6 68.0 L571.7 71.5 L572.9 73.5 L574.1 73.7 L575.2 76.8 L576.4 81.1 L577.6 81.4 L578.7 85.5 L579.9 87.6 L581.1 89.2 L582.3 94.1 L583.4 96.8 L584.6 101.2 L585.8 104.2 L586.9 109.4 L588.1 112.7 L589.3 117.7 L590.4 120.1 L591.6 125.2 L592.8 130.6 L594.0 134.9 L595.1 138.5 L596.3 141.9 L597.5 143.9 L598.6 148.1 L599.8 151.7 L601.0 155.0 L602.1 159.1 L603.3 162.0 L604.5 166.5 L605.7 169.2 L606.8 172.0 L608.0 174.6 L609.2 179.4 L610.3 180.6 L611.5 183.4 L612.7 185.7 L613.8 190.7 L615.0 193.2 L616.2 193.9 L617.4 195.7 L618.5 198.8 L619.7 201.2 L620.9 203.6 L622.0 206.4 L623.2 207.9 L624.4 210.7 L625.5 213.2 L626.7 215.4 L627.9 217.6 L629.1 219.3 L630.2 221.6 L631.4 224.1 L632.6 225.0 L633.7 228.0 L634.9 229.1 L636.1 231.5 L637.2 231.9 L638.4 234.7 L639.6 235.9 L640.8 238.3 L641.9 239.4 L643.1 240.7 L644.3 243.0 L645.4 243.9 L646.6 245.3 L647.8 246.8 L648.9 248.2 L650.1 249.5 L651.3 250.7 L652.5 252.4 L653.6 253.5 L654.8 254.6 L656.0 255.7 L657.1 256.1 L658.3 256.8 L659.5 257.2 L660.6 258.2 L661.8 259.1 L663.0 260.3 L664.2 260.3 L665.3 261.7 L666.5 262.4 L667.7 262.5 L668.8 263.1 L670.0 263.9 L671.2 264.4 L672.3 264.9 L673.5 265.8 L674.7 266.7 L675.9 266.7 L677.0 268.0 L678.2 268.9 L679.4 269.4 L680.5 270.2 L681.7 270.1 L682.9 270.8 L684.0 272.0 L684.2 271.8"/>
<path stroke="#ff2a00" d="M412.6 283.5 L413.8 283.3 L414.9 283.0 L416.1 283.0 L417.3 282.9 L418.5 282.6 L419.6 282.6 L420.8 282.4 L422.0 282.3 L423.1 282.1 L424.3 282.0 L425.5 281.9 L426.6 281.5 L427.8 281.6 L429.0 281.3 L430.2 281.1 L431.3 280.7 L432.5 280.7 L433.7 280.6 L434.8 280.1 L436.0 279.7 L437.2 279.5 L438.3 279.5 L439.5 279.5 L440.7 279.1 L441.9 278.9 L443.0 278.3 L444.2 278.3 L445.4 277.7 L446.5 277.5 L447.7 277.0 L448.9 276.5 L450.0 276.3 L451.2 275.7 L452.4 275.6 L453.6 274.9 L454.7 274.5 L455.9 273.8 L457.1 273.6 L458.2 272.6 L459.4 272.3 L460.6 271.5 L461.7 270.7 L462.9 270.2 L464.1 269.4 L465.3 268.8 L466.4 268.0 L467.6 267.3 L468.8 266.6 L469.9 265.5 L471.1 264.7 L472.3 263.9 L473.4 262.7 L474.6 262.2 L475.8 261.3 L477.0 260.1 L478.1 259.7 L479.3 258.4 L480.5 257.1 L481.6 255.9 L482.8 254.9 L484.0 253.7 L485.1 253.2 L486.3 251.4 L487.5 250.4 L488.7 249.0 L489.8 248.3 L491.0 246.0 L492.2 244.9 L493.3 243.4 L494.5 241.9 L495.7 240.1 L496.8 238.0 L498.0 236.5 L499.2 234.2 L500.4 233.0 L501.5 229.2 L502.7 228.1 L503.9 225.2 L505.0 223.1 L506.2 222.4 L507.4 220.1 L508.5 215.9 L509.7 214.4 L510.9 212.1 L512.1 208.2 L513.2 206.4 L514.4 203.5 L515.6 200.0 L516.7 195.0 L517.9 193.3 L519.1 189.0 L520.2 185.0 L521.4 180.7 L522.6 177.9 L523.8 174.2 L524.9 169.3 L526.1 165.8 L527.3 162.5 L528.4 156.5 L529.6 154.3 L530.8 148.8 L531.9 145.7 L533.1 143.0 L534.3 138.5 L535.5 134.2 L536.6 130.1 L537.8 126.8 L539.0 122.2 L540.1 116.4 L541.3 113.0 L542.5 107.9 L543.6 105.9 L544.8 99.0 L546.0 95.2 L547.2 91.0 L548.3 86.8 L549.5 83.5 L550.7 79.9 L551.8 74.7 L553.0 72.9 L554.2 69.5 L555.3 69.9 L556.5 68.7 L557.7 66.3 L558.9 63.8 L560.0 63.3 L561.2 61.4 L562.4 62.3 L563.5 60.8 L564.7 59.6 L565.9 58.7 L567.0 59.6 L568.2 61.5 L569.4 61.2 L570.6 64.1 L571.7 67.9 L572.9 68.8 L574.1 73.3 L575.2 75.1 L576.4 75.7 L577.6 77.1 L578.7 81.1 L579.9 83.5 L581.1 87.5 L582.3 92.1 L583.4 93.0 L584.6 97.4 L585.8 102.0 L586.9 106.6 L588.1 110.1 L589.3 114.1 L590.4 119.2 L591.6 122.8 L592.8 126.5 L594.0 130.9 L595.1 134.2 L596.3 138.8 L597.5 142.5 L598.6 143.5 L599.8 149.5 L601.0 152.1 L602.1 156.3 L603.3 160.2 L604.5 161.9 L605.7 166.0 L606.8 169.9 L608.0 172.8 L609.2 176.5 L610.3 178.8 L611.5 180.8 L612.7 185.1 L613.8 188.0 L615.0 190.2 L616.2 192.0 L617.4 194.7 L618.5 197.7 L619.7 200.1 L620.9 202.7 L622.0 204.2 L623.2 205.8 L624.4 208.6 L625.5 211.5 L626.7 213.9 L627.9 216.8 L629.1 218.0 L630.2 220.2 L631.4 222.1 L632.6 224.0 L633.7 226.5 L634.9 228.1 L636.1 229.6 L637.2 230.9 L638.4 233.0 L639.6 234.6 L640.8 237.1 L641.9 238.6 L643.1 239.4 L644.3 242.0 L645.4 242.8 L646.6 244.6 L647.8 246.5 L648.9 247.1 L650.1 248.8 L651.3 249.6 L652.5 250.4 L653.6 252.6 L654.8 253.3 L656.0 253.9 L657.1 254.6 L658.3 255.9 L659.5 257.3 L660.6 257.8 L661.8 258.3 L663.0 258.9 L664.2 259.9 L665.3 260.1 L666.5 261.6 L667.7 262.1 L668.8 262.9 L670.0 263.1 L671.2 264.2 L672.3 264.8 L673.5 264.9 L674.7 266.0 L675.9 266.7 L677.0 267.1 L678.2 267.8 L679.4 268.7 L680.5 269.2 L681.7 269.6 L682.9 270.6 L684.0 271.2 L684.2 271.2"/>
</g>
<line x1="565.3" y1="46" x2="565.3" y2="186.7" stroke="#000" stroke-width="1.7"/>
<path d="M565.3 36.2 L560.6 54 L565.3 50.2 L570 54 Z" fill="#000"/>
<g stroke="#000" stroke-width="1.6" fill="none" stroke-linecap="butt">
<path d="M54.5 12.5 V285.0 H326.4"/>
<path d="M54.5 285.0 h-7.6"/>
<path d="M54.5 260.2 h-3.8"/>
<path d="M54.5 235.5 h-7.6"/>
<path d="M54.5 210.8 h-3.8"/>
<path d="M54.5 186.0 h-7.6"/>
<path d="M54.5 161.2 h-3.8"/>
<path d="M54.5 136.5 h-7.6"/>
<path d="M54.5 111.7 h-3.8"/>
<path d="M54.5 87.0 h-7.6"/>
<path d="M54.5 62.2 h-3.8"/>
<path d="M54.5 37.5 h-7.6"/>
<path d="M54.5 12.8 h-3.8"/>
<path d="M54.5 285.0 v7.6"/>
<path d="M93.3 285.0 v3.8"/>
<path d="M132.2 285.0 v7.6"/>
<path d="M171.1 285.0 v3.8"/>
<path d="M209.9 285.0 v7.6"/>
<path d="M248.8 285.0 v3.8"/>
<path d="M287.6 285.0 v7.6"/>
<path d="M326.4 285.0 v3.8"/>
<path d="M412.2 12.8 V284.8 H684"/>
<path d="M412.2 284.8 h-7.6"/>
<path d="M412.2 269.7 h-3.8"/>
<path d="M412.2 254.6 h-7.6"/>
<path d="M412.2 239.5 h-3.8"/>
<path d="M412.2 224.4 h-7.6"/>
<path d="M412.2 209.3 h-3.8"/>
<path d="M412.2 194.2 h-7.6"/>
<path d="M412.2 179.1 h-3.8"/>
<path d="M412.2 164.0 h-7.6"/>
<path d="M412.2 148.9 h-3.8"/>
<path d="M412.2 133.8 h-7.6"/>
<path d="M412.2 118.7 h-3.8"/>
<path d="M412.2 103.6 h-7.6"/>
<path d="M412.2 88.5 h-3.8"/>
<path d="M412.2 73.4 h-7.6"/>
<path d="M412.2 58.3 h-3.8"/>
<path d="M412.2 43.2 h-7.6"/>
<path d="M412.2 28.1 h-3.8"/>
<path d="M412.2 13.0 h-7.6"/>
<path d="M420.6 284.8 v7.6"/>
<path d="M438.2 284.8 v3.8"/>
<path d="M455.7 284.8 v7.6"/>
<path d="M473.2 284.8 v3.8"/>
<path d="M490.8 284.8 v7.6"/>
<path d="M508.4 284.8 v3.8"/>
<path d="M525.9 284.8 v7.6"/>
<path d="M543.5 284.8 v3.8"/>
<path d="M561.0 284.8 v7.6"/>
<path d="M578.5 284.8 v3.8"/>
<path d="M596.1 284.8 v7.6"/>
<path d="M613.6 284.8 v3.8"/>
<path d="M631.2 284.8 v7.6"/>
<path d="M648.8 284.8 v3.8"/>
<path d="M666.3 284.8 v7.6"/>
<path d="M683.9 284.8 v3.8"/>
</g>
<text transform="translate(41.80 288.75) scale(1 1.100)" font-size="11.80" text-anchor="end" stroke="#000" stroke-width="0.15">0.00</text>
<text transform="translate(41.80 239.25) scale(1 1.100)" font-size="11.80" text-anchor="end" stroke="#000" stroke-width="0.15">0.02</text>
<text transform="translate(41.80 189.75) scale(1 1.100)" font-size="11.80" text-anchor="end" stroke="#000" stroke-width="0.15">0.04</text>
<text transform="translate(41.80 140.25) scale(1 1.100)" font-size="11.80" text-anchor="end" stroke="#000" stroke-width="0.15">0.06</text>
<text transform="translate(41.80 90.75) scale(1 1.100)" font-size="11.80" text-anchor="end" stroke="#000" stroke-width="0.15">0.08</text>
<text transform="translate(41.80 41.25) scale(1 1.100)" font-size="11.80" text-anchor="end" stroke="#000" stroke-width="0.15">0.10</text>
<text transform="translate(54.50 307.35) scale(1 1.100)" font-size="11.80" text-anchor="middle" stroke="#000" stroke-width="0.15">500</text>
<text transform="translate(132.20 307.35) scale(1 1.100)" font-size="11.80" text-anchor="middle" stroke="#000" stroke-width="0.15">600</text>
<text transform="translate(209.90 307.35) scale(1 1.100)" font-size="11.80" text-anchor="middle" stroke="#000" stroke-width="0.15">700</text>
<text transform="translate(287.60 307.35) scale(1 1.100)" font-size="11.80" text-anchor="middle" stroke="#000" stroke-width="0.15">800</text>
<text transform="translate(399.20 288.65) scale(1 1.100)" font-size="11.80" text-anchor="end" stroke="#000" stroke-width="0.15">0</text>
<text transform="translate(399.20 258.45) scale(1 1.100)" font-size="11.80" text-anchor="end" stroke="#000" stroke-width="0.15">2</text>
<text transform="translate(399.20 228.25) scale(1 1.100)" font-size="11.80" text-anchor="end" stroke="#000" stroke-width="0.15">4</text>
<text transform="translate(399.20 198.05) scale(1 1.100)" font-size="11.80" text-anchor="end" stroke="#000" stroke-width="0.15">6</text>
<text transform="translate(399.20 167.85) scale(1 1.100)" font-size="11.80" text-anchor="end" stroke="#000" stroke-width="0.15">8</text>
<text transform="translate(399.20 137.65) scale(1 1.100)" font-size="11.80" text-anchor="end" stroke="#000" stroke-width="0.15">10</text>
<text transform="translate(399.20 107.45) scale(1 1.100)" font-size="11.80" text-anchor="end" stroke="#000" stroke-width="0.15">12</text>
<text transform="translate(399.20 77.25) scale(1 1.100)" font-size="11.80" text-anchor="end" stroke="#000" stroke-width="0.15">14</text>
<text transform="translate(399.20 47.05) scale(1 1.100)" font-size="11.80" text-anchor="end" stroke="#000" stroke-width="0.15">16</text>
<text transform="translate(399.20 16.85) scale(1 1.100)" font-size="11.80" text-anchor="end" stroke="#000" stroke-width="0.15">18</text>
<text transform="translate(420.60 307.35) scale(1 1.100)" font-size="11.80" text-anchor="middle" stroke="#000" stroke-width="0.15">700</text>
<text transform="translate(455.70 307.35) scale(1 1.100)" font-size="11.80" text-anchor="middle" stroke="#000" stroke-width="0.15">720</text>
<text transform="translate(490.80 307.35) scale(1 1.100)" font-size="11.80" text-anchor="middle" stroke="#000" stroke-width="0.15">740</text>
<text transform="translate(525.90 307.35) scale(1 1.100)" font-size="11.80" text-anchor="middle" stroke="#000" stroke-width="0.15">760</text>
<text transform="translate(561.00 307.35) scale(1 1.100)" font-size="11.80" text-anchor="middle" stroke="#000" stroke-width="0.15">780</text>
<text transform="translate(596.10 307.35) scale(1 1.100)" font-size="11.80" text-anchor="middle" stroke="#000" stroke-width="0.15">800</text>
<text transform="translate(631.20 307.35) scale(1 1.100)" font-size="11.80" text-anchor="middle" stroke="#000" stroke-width="0.15">820</text>
<text transform="translate(666.30 307.35) scale(1 1.100)" font-size="11.80" text-anchor="middle" stroke="#000" stroke-width="0.15">840</text>
<text transform="translate(190.40 328.60) scale(1 1.040)" font-size="12.00" text-anchor="middle" stroke="#000" stroke-width="0.15">Wavelength (nm)</text>
<text transform="translate(525.10 322.70) scale(1 1.040)" font-size="12.00" text-anchor="middle" stroke="#000" stroke-width="0.15">Wavelength (nm)</text>
<text transform="translate(11.00 132.80) rotate(-90) scale(1 0.950)" font-size="12.10" text-anchor="middle" stroke="#000" stroke-width="0.15">Absorbance</text>
<text transform="translate(377.20 140.00) rotate(-90) scale(1 0.950)" font-size="12.10" text-anchor="middle" stroke="#000" stroke-width="0.15">I<tspan font-size="7.3" font-style="italic" dy="2.4">F</tspan><tspan dy="-2.4">(arb.unit)</tspan></text>
<text transform="translate(-1.30 8.70)" font-size="13.20" text-anchor="start" font-weight="bold">a</text>
<text transform="translate(353.00 9.00)" font-size="13.00" text-anchor="start" stroke="#000" stroke-width="0.10">b</text>
<text transform="translate(260.30 29.80)" font-size="10.70" text-anchor="start" stroke="#000" stroke-width="0.15">pH 2.6</text>
<text transform="translate(296.40 207.00)" font-size="10.70" text-anchor="start" stroke="#000" stroke-width="0.15">pH 8.0</text>
<text transform="translate(562.90 28.50)" font-size="10.70" text-anchor="start" stroke="#000" stroke-width="0.15">pH 8.0</text>
<text transform="translate(565.30 200.60)" font-size="10.70" text-anchor="start" stroke="#000" stroke-width="0.15">pH 2.6</text>
</svg></body></html>
